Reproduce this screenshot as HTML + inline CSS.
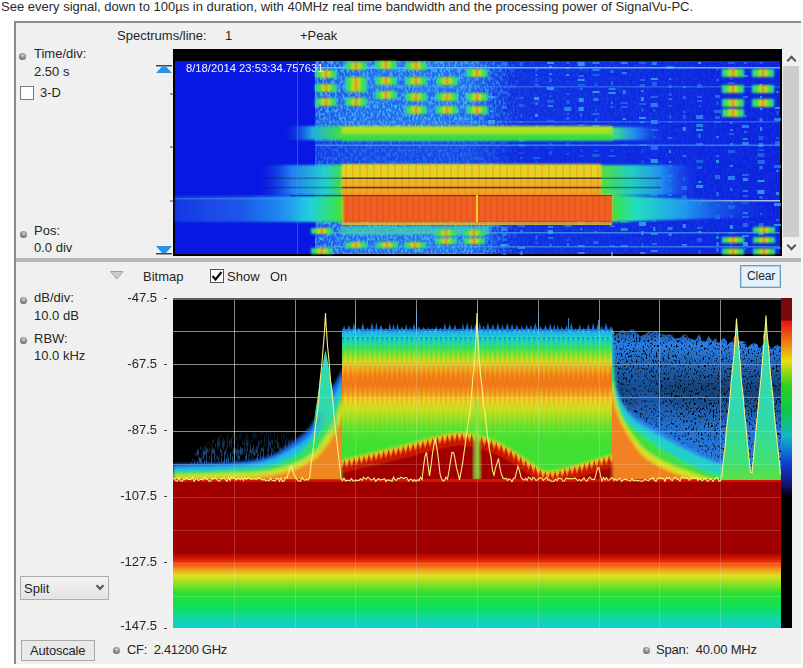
<!DOCTYPE html>
<html><head><meta charset="utf-8">
<style>
*{margin:0;padding:0;box-sizing:border-box}
html,body{width:803px;height:668px;overflow:hidden;background:#fff}
body{position:relative;font-family:"Liberation Sans",sans-serif;font-size:13px;color:#333}
.a{position:absolute;white-space:pre;line-height:15px}
#hdr{left:1px;top:-1px;color:#2a2a2a}
#panel{position:absolute;left:14px;top:21px;width:787px;height:643px;background:#f0f0f0;border-left:2px solid #8c8c8c;border-top:2px solid #8c8c8c}
.lbl{color:#262626}
.radio{position:absolute;width:7px;height:7px;border-radius:50%;background:radial-gradient(circle at 55% 35%,#d8d8d8 0,#9a9a9a 35%,#4a4a4a 100%)}
#sep{position:absolute;left:16px;top:258px;width:785px;height:4px;background:#b8b8b8}
#scroll{position:absolute;left:783px;top:66px;width:16px;height:171px;background:#cdcdcd}
#cbar{position:absolute;left:781px;top:298px;width:11px;height:330px;background:linear-gradient(to bottom,#7a0a0a 0,#7a0a0a 22px,#e81010 23px,#f07010 42px,#e8e010 63px,#30d020 87px,#10c840 111px,#10b8c8 138px,#1040d0 165px,#101070 188px,#000 198px,#000 100%)}
.btn{position:absolute;border:1px solid #adadad;background:#e1e1e1}
.chev{position:absolute;width:7px;height:7px;border-left:2px solid #555;border-top:2px solid #555}
</style></head>
<body>
<div class="a" id="hdr">See every signal, down to 100µs in duration, with 40MHz real time bandwidth and the processing power of SignalVu-PC.</div>
<div id="panel"></div>
<div style="position:absolute;left:801px;top:21px;width:2px;height:647px;background:#fafafa"></div>
<!-- top section labels -->
<div class="a lbl" style="left:117px;top:28px">Spectrums/line:</div>
<div class="a lbl" style="left:225px;top:28px">1</div>
<div class="a lbl" style="left:300px;top:28px">+Peak</div>
<div class="radio" style="left:19px;top:53px"></div>
<div class="a lbl" style="left:34px;top:46px">Time/div:</div>
<div class="a lbl" style="left:34px;top:64px">2.50 s</div>
<div style="position:absolute;left:20px;top:86px;width:14px;height:14px;background:#fff;border:1px solid #7a7a7a"></div>
<div class="a lbl" style="left:40px;top:85px">3-D</div>
<div class="radio" style="left:20px;top:231px"></div>
<div class="a lbl" style="left:34px;top:223px">Pos:</div>
<div class="a lbl" style="left:34px;top:240px">0.0 div</div>
<!-- markers -->
<svg style="position:absolute;left:150px;top:60px" width="26" height="200" viewBox="0 0 26 200">
 <rect x="6" y="5" width="16" height="1.5" fill="#3a4a50"/>
 <path d="M12 6.5 L16 6.5 L22 13 L6 13Z" fill="#2a90e8"/>
 <path d="M6 186 L22 186 L16 193 L12 193Z" fill="#2a90e8"/>
 <rect x="6" y="193" width="16" height="1.5" fill="#3a4a50"/>
 <rect x="20" y="86.5" width="3" height="1" fill="#444"/>
 <rect x="20" y="140.5" width="3" height="1" fill="#444"/>
 <rect x="20" y="33.5" width="3" height="1" fill="#444"/>
</svg>
<svg width="609" height="207" viewBox="0 0 609 207" style="position:absolute;left:173px;top:49px">
<defs>
<linearGradient id="wtex" x1="142" x2="607" y1="0" y2="0" gradientUnits="userSpaceOnUse">
 <stop offset="0" stop-color="#2050ea"/><stop offset="0.1" stop-color="#2468ee"/><stop offset="0.33" stop-color="#2468ee"/><stop offset="0.42" stop-color="#1030e2"/><stop offset="1" stop-color="#0c22e0"/></linearGradient>
<linearGradient id="wmask" x1="142" x2="607" y1="0" y2="0" gradientUnits="userSpaceOnUse">
 <stop offset="0" stop-color="#fff" stop-opacity="0.8"/><stop offset="0.33" stop-color="#fff" stop-opacity="0.8"/><stop offset="0.45" stop-color="#fff" stop-opacity="0.12"/><stop offset="1" stop-color="#fff" stop-opacity="0.08"/></linearGradient>
<linearGradient id="wcL" x1="0" x2="1" y1="0" y2="0">
 <stop offset="0" stop-color="#1838e4"/><stop offset="0.4" stop-color="#1c58ea"/><stop offset="0.65" stop-color="#2090f0"/><stop offset="0.8" stop-color="#20d0e0"/><stop offset="0.93" stop-color="#30e070"/><stop offset="1" stop-color="#50e030"/></linearGradient>
<linearGradient id="wcR" x1="0" x2="1" y1="0" y2="0">
 <stop offset="0" stop-color="#40e040"/><stop offset="0.15" stop-color="#20e0c0"/><stop offset="0.45" stop-color="#2098f0"/><stop offset="1" stop-color="#1a30e0" stop-opacity="0"/></linearGradient>
<linearGradient id="wbL" x1="0" x2="1" y1="0" y2="0">
 <stop offset="0" stop-color="#1a30e0" stop-opacity="0"/><stop offset="0.4" stop-color="#2080f0"/><stop offset="0.8" stop-color="#20d0d0"/><stop offset="1" stop-color="#40e040"/></linearGradient>
<linearGradient id="wbR" x1="0" x2="1" y1="0" y2="0">
 <stop offset="0" stop-color="#50e040"/><stop offset="0.3" stop-color="#20d0c0"/><stop offset="0.6" stop-color="#2090f0"/><stop offset="1" stop-color="#1a30e0" stop-opacity="0"/></linearGradient>
<linearGradient id="wbV" x1="0" x2="0" y1="0" y2="1">
 <stop offset="0" stop-color="#e0d820"/><stop offset="0.45" stop-color="#e8d020"/><stop offset="0.5" stop-color="#f0b420"/><stop offset="1" stop-color="#f0a020"/></linearGradient>
<linearGradient id="waL" x1="0" x2="1" y1="0" y2="0">
 <stop offset="0" stop-color="#1a30e0" stop-opacity="0"/><stop offset="0.5" stop-color="#20b0e0"/><stop offset="1" stop-color="#40e040"/></linearGradient>
<linearGradient id="waR" x1="0" x2="1" y1="0" y2="0">
 <stop offset="0" stop-color="#40e080"/><stop offset="0.4" stop-color="#2090f0"/><stop offset="1" stop-color="#1a30e0" stop-opacity="0"/></linearGradient>
<linearGradient id="waV" x1="0" x2="0" y1="0" y2="1">
 <stop offset="0" stop-color="#b8e020"/><stop offset="0.5" stop-color="#a0e020"/><stop offset="0.55" stop-color="#40e040"/><stop offset="1" stop-color="#30d850"/></linearGradient>
<linearGradient id="blobH" x1="0" x2="1" y1="0" y2="0">
 <stop offset="0" stop-color="#30d0c0"/><stop offset="0.2" stop-color="#40e040"/><stop offset="0.4" stop-color="#c0e020"/><stop offset="0.5" stop-color="#f0c020"/><stop offset="0.6" stop-color="#c0e020"/><stop offset="0.8" stop-color="#40e040"/><stop offset="1" stop-color="#30d0c0"/></linearGradient>
<filter id="wblur" x="-5%" y="-20%" width="110%" height="140%"><feGaussianBlur stdDeviation="1"/></filter>
<filter id="wspk" x="0" y="0" width="100%" height="100%" filterUnits="userSpaceOnUse" color-interpolation-filters="sRGB">
 <feTurbulence type="fractalNoise" baseFrequency="0.5 0.25" numOctaves="2" seed="9" result="n"/>
 <feColorMatrix in="n" type="matrix" values="0 0 0 0 0.25  0 0 0 0 0.75  0 0 0 0 0.95  0 0 0 5 -2.2" result="c"/>
 <feComposite in="c" in2="SourceGraphic" operator="in"/>
</filter>
</defs>
<rect width="609" height="207" fill="#000"/>
<rect x="2" y="12" width="605" height="193" fill="#0818e2"/>
<rect x="142" y="12" width="465" height="193" fill="url(#wtex)"/>
<rect x="142" y="12" width="465" height="193" fill="url(#wmask)" filter="url(#wspk)"/>
<rect x="317.0" y="22.0" width="3" height="2" fill="#2a70f0" opacity="0.7"/><rect x="317.0" y="29.0" width="3" height="2" fill="#2a70f0" opacity="0.7"/><rect x="315.0" y="47.0" width="7" height="2" fill="#40c0f0" opacity="0.7"/><rect x="317.0" y="61.0" width="3" height="2" fill="#40c0f0" opacity="0.7"/><rect x="315.0" y="71.0" width="7" height="4" fill="#40c0f0" opacity="0.7"/><rect x="316.0" y="80.0" width="5" height="2" fill="#3aa0f0" opacity="0.7"/><rect x="316.0" y="87.0" width="5" height="3" fill="#2a70f0" opacity="0.7"/><rect x="317.0" y="92.0" width="3" height="3" fill="#3aa0f0" opacity="0.7"/><rect x="315.0" y="103.0" width="7" height="3" fill="#3080f0" opacity="0.7"/><rect x="317.0" y="114.0" width="3" height="4" fill="#40c0f0" opacity="0.7"/><rect x="316.0" y="125.0" width="5" height="4" fill="#2a70f0" opacity="0.7"/><rect x="316.0" y="151.0" width="5" height="2" fill="#40c0f0" opacity="0.7"/><rect x="316.0" y="164.0" width="5" height="2" fill="#40c0f0" opacity="0.7"/><rect x="316.0" y="171.0" width="5" height="2" fill="#2a70f0" opacity="0.7"/><rect x="315.0" y="176.0" width="7" height="2" fill="#3aa0f0" opacity="0.7"/><rect x="317.5" y="187.0" width="2" height="4" fill="#2a70f0" opacity="0.7"/><rect x="317.0" y="199.0" width="3" height="3" fill="#2a70f0" opacity="0.7"/><rect x="327.9" y="13.0" width="7" height="4" fill="#3080f0" opacity="0.7"/><rect x="327.9" y="42.0" width="7" height="3" fill="#2a70f0" opacity="0.7"/><rect x="329.9" y="53.0" width="3" height="2" fill="#2a70f0" opacity="0.7"/><rect x="328.9" y="57.0" width="5" height="3" fill="#3080f0" opacity="0.7"/><rect x="330.4" y="63.0" width="2" height="2" fill="#3080f0" opacity="0.7"/><rect x="330.4" y="86.0" width="2" height="3" fill="#2a70f0" opacity="0.7"/><rect x="327.9" y="92.0" width="7" height="3" fill="#3080f0" opacity="0.7"/><rect x="328.9" y="100.0" width="5" height="3" fill="#2a70f0" opacity="0.7"/><rect x="328.9" y="123.0" width="5" height="2" fill="#2a70f0" opacity="0.7"/><rect x="327.9" y="128.0" width="7" height="3" fill="#40c0f0" opacity="0.7"/><rect x="328.9" y="133.0" width="5" height="4" fill="#3aa0f0" opacity="0.7"/><rect x="329.9" y="142.0" width="3" height="2" fill="#40c0f0" opacity="0.7"/><rect x="329.9" y="151.0" width="3" height="2" fill="#3aa0f0" opacity="0.7"/><rect x="330.4" y="156.0" width="2" height="3" fill="#2a70f0" opacity="0.7"/><rect x="330.4" y="162.0" width="2" height="4" fill="#40c0f0" opacity="0.7"/><rect x="327.9" y="171.0" width="7" height="2" fill="#3080f0" opacity="0.7"/><rect x="328.9" y="178.0" width="5" height="4" fill="#3aa0f0" opacity="0.7"/><rect x="328.9" y="184.0" width="5" height="3" fill="#3080f0" opacity="0.7"/><rect x="328.9" y="189.0" width="5" height="3" fill="#2a70f0" opacity="0.7"/><rect x="327.9" y="195.0" width="7" height="2" fill="#40c0f0" opacity="0.7"/><rect x="330.4" y="200.0" width="2" height="2" fill="#2a70f0" opacity="0.7"/><rect x="329.9" y="204.0" width="3" height="2" fill="#3080f0" opacity="0.7"/><rect x="347.0" y="13.0" width="3" height="4" fill="#2a70f0" opacity="0.7"/><rect x="346.0" y="48.0" width="5" height="2" fill="#2a70f0" opacity="0.7"/><rect x="346.0" y="55.0" width="5" height="3" fill="#2a70f0" opacity="0.7"/><rect x="347.5" y="66.0" width="2" height="3" fill="#2a70f0" opacity="0.7"/><rect x="347.0" y="72.0" width="3" height="2" fill="#2a70f0" opacity="0.7"/><rect x="346.0" y="79.0" width="5" height="2" fill="#40c0f0" opacity="0.7"/><rect x="346.0" y="89.0" width="5" height="4" fill="#40c0f0" opacity="0.7"/><rect x="345.0" y="95.0" width="7" height="3" fill="#3aa0f0" opacity="0.7"/><rect x="346.0" y="103.0" width="5" height="2" fill="#3080f0" opacity="0.7"/><rect x="347.0" y="108.0" width="3" height="2" fill="#3aa0f0" opacity="0.7"/><rect x="347.5" y="118.0" width="2" height="2" fill="#40c0f0" opacity="0.7"/><rect x="347.0" y="147.0" width="3" height="4" fill="#3080f0" opacity="0.7"/><rect x="347.5" y="159.0" width="2" height="4" fill="#2a70f0" opacity="0.7"/><rect x="345.0" y="176.0" width="7" height="2" fill="#3080f0" opacity="0.7"/><rect x="347.5" y="181.0" width="2" height="2" fill="#3aa0f0" opacity="0.7"/><rect x="345.0" y="198.0" width="7" height="2" fill="#3aa0f0" opacity="0.7"/><rect x="347.5" y="202.0" width="2" height="4" fill="#40c0f0" opacity="0.7"/><rect x="362.0" y="18.0" width="3" height="4" fill="#2a70f0" opacity="0.7"/><rect x="362.5" y="25.0" width="2" height="2" fill="#3aa0f0" opacity="0.7"/><rect x="362.5" y="29.0" width="2" height="4" fill="#2a70f0" opacity="0.7"/><rect x="361.0" y="35.0" width="5" height="2" fill="#2a70f0" opacity="0.7"/><rect x="361.0" y="48.0" width="5" height="3" fill="#40c0f0" opacity="0.7"/><rect x="362.0" y="53.0" width="3" height="3" fill="#3080f0" opacity="0.7"/><rect x="362.0" y="65.0" width="3" height="3" fill="#40c0f0" opacity="0.7"/><rect x="362.5" y="76.0" width="2" height="2" fill="#3aa0f0" opacity="0.7"/><rect x="360.0" y="83.0" width="7" height="2" fill="#2a70f0" opacity="0.7"/><rect x="362.0" y="98.0" width="3" height="2" fill="#2a70f0" opacity="0.7"/><rect x="360.0" y="108.0" width="7" height="2" fill="#40c0f0" opacity="0.7"/><rect x="362.0" y="112.0" width="3" height="2" fill="#3080f0" opacity="0.7"/><rect x="361.0" y="130.0" width="5" height="4" fill="#3080f0" opacity="0.7"/><rect x="362.0" y="137.0" width="3" height="4" fill="#40c0f0" opacity="0.7"/><rect x="362.5" y="146.0" width="2" height="4" fill="#40c0f0" opacity="0.7"/><rect x="360.0" y="152.0" width="7" height="2" fill="#3080f0" opacity="0.7"/><rect x="360.0" y="157.0" width="7" height="2" fill="#3080f0" opacity="0.7"/><rect x="362.0" y="167.0" width="3" height="4" fill="#40c0f0" opacity="0.7"/><rect x="362.5" y="186.0" width="2" height="4" fill="#3080f0" opacity="0.7"/><rect x="362.5" y="193.0" width="2" height="2" fill="#2a70f0" opacity="0.7"/><rect x="374.0" y="13.0" width="7" height="2" fill="#40c0f0" opacity="0.7"/><rect x="376.0" y="17.0" width="3" height="2" fill="#40c0f0" opacity="0.7"/><rect x="376.0" y="24.0" width="3" height="2" fill="#3aa0f0" opacity="0.7"/><rect x="376.0" y="29.0" width="3" height="4" fill="#2a70f0" opacity="0.7"/><rect x="374.0" y="38.0" width="7" height="3" fill="#40c0f0" opacity="0.7"/><rect x="376.5" y="46.0" width="2" height="2" fill="#2a70f0" opacity="0.7"/><rect x="374.0" y="51.0" width="7" height="3" fill="#2a70f0" opacity="0.7"/><rect x="375.0" y="56.0" width="5" height="2" fill="#3aa0f0" opacity="0.7"/><rect x="374.0" y="71.0" width="7" height="2" fill="#2a70f0" opacity="0.7"/><rect x="374.0" y="76.0" width="7" height="2" fill="#2a70f0" opacity="0.7"/><rect x="374.0" y="85.0" width="7" height="2" fill="#40c0f0" opacity="0.7"/><rect x="376.0" y="94.0" width="3" height="2" fill="#3aa0f0" opacity="0.7"/><rect x="375.0" y="98.0" width="5" height="2" fill="#2a70f0" opacity="0.7"/><rect x="376.0" y="102.0" width="3" height="4" fill="#3aa0f0" opacity="0.7"/><rect x="374.0" y="125.0" width="7" height="2" fill="#3aa0f0" opacity="0.7"/><rect x="376.0" y="129.0" width="3" height="3" fill="#3aa0f0" opacity="0.7"/><rect x="374.0" y="140.0" width="7" height="4" fill="#40c0f0" opacity="0.7"/><rect x="376.0" y="147.0" width="3" height="3" fill="#3aa0f0" opacity="0.7"/><rect x="375.0" y="159.0" width="5" height="2" fill="#2a70f0" opacity="0.7"/><rect x="376.0" y="163.0" width="3" height="2" fill="#3aa0f0" opacity="0.7"/><rect x="375.0" y="177.0" width="5" height="2" fill="#3aa0f0" opacity="0.7"/><rect x="375.0" y="181.0" width="5" height="4" fill="#40c0f0" opacity="0.7"/><rect x="375.0" y="188.0" width="5" height="2" fill="#3080f0" opacity="0.7"/><rect x="376.5" y="195.0" width="2" height="2" fill="#3aa0f0" opacity="0.7"/><rect x="393.3" y="13.0" width="3" height="2" fill="#3080f0" opacity="0.7"/><rect x="393.3" y="18.0" width="3" height="2" fill="#40c0f0" opacity="0.7"/><rect x="393.3" y="25.0" width="3" height="2" fill="#40c0f0" opacity="0.7"/><rect x="393.3" y="44.0" width="3" height="2" fill="#2a70f0" opacity="0.7"/><rect x="393.3" y="51.0" width="3" height="4" fill="#2a70f0" opacity="0.7"/><rect x="391.3" y="58.0" width="7" height="4" fill="#3aa0f0" opacity="0.7"/><rect x="393.3" y="64.0" width="3" height="2" fill="#2a70f0" opacity="0.7"/><rect x="393.3" y="68.0" width="3" height="3" fill="#3080f0" opacity="0.7"/><rect x="392.3" y="79.0" width="5" height="2" fill="#40c0f0" opacity="0.7"/><rect x="393.3" y="94.0" width="3" height="2" fill="#40c0f0" opacity="0.7"/><rect x="393.8" y="104.0" width="2" height="2" fill="#40c0f0" opacity="0.7"/><rect x="393.8" y="126.0" width="2" height="3" fill="#40c0f0" opacity="0.7"/><rect x="393.3" y="137.0" width="3" height="4" fill="#2a70f0" opacity="0.7"/><rect x="392.3" y="143.0" width="5" height="2" fill="#2a70f0" opacity="0.7"/><rect x="393.8" y="150.0" width="2" height="4" fill="#40c0f0" opacity="0.7"/><rect x="393.8" y="171.0" width="2" height="2" fill="#3aa0f0" opacity="0.7"/><rect x="391.3" y="176.0" width="7" height="2" fill="#3080f0" opacity="0.7"/><rect x="393.8" y="190.0" width="2" height="2" fill="#3080f0" opacity="0.7"/><rect x="393.8" y="194.0" width="2" height="3" fill="#3aa0f0" opacity="0.7"/><rect x="404.7" y="13.0" width="7" height="4" fill="#40c0f0" opacity="0.7"/><rect x="407.2" y="19.0" width="2" height="2" fill="#3080f0" opacity="0.7"/><rect x="405.7" y="26.0" width="5" height="2" fill="#3080f0" opacity="0.7"/><rect x="404.7" y="30.0" width="7" height="2" fill="#40c0f0" opacity="0.7"/><rect x="404.7" y="35.0" width="7" height="2" fill="#2a70f0" opacity="0.7"/><rect x="406.7" y="39.0" width="3" height="2" fill="#3080f0" opacity="0.7"/><rect x="405.7" y="49.0" width="5" height="4" fill="#40c0f0" opacity="0.7"/><rect x="405.7" y="58.0" width="5" height="4" fill="#40c0f0" opacity="0.7"/><rect x="407.2" y="64.0" width="2" height="4" fill="#3080f0" opacity="0.7"/><rect x="404.7" y="75.0" width="7" height="2" fill="#2a70f0" opacity="0.7"/><rect x="407.2" y="89.0" width="2" height="2" fill="#3aa0f0" opacity="0.7"/><rect x="407.2" y="94.0" width="2" height="3" fill="#2a70f0" opacity="0.7"/><rect x="407.2" y="100.0" width="2" height="3" fill="#3080f0" opacity="0.7"/><rect x="405.7" y="106.0" width="5" height="2" fill="#3080f0" opacity="0.7"/><rect x="404.7" y="120.0" width="7" height="2" fill="#2a70f0" opacity="0.7"/><rect x="404.7" y="129.0" width="7" height="3" fill="#2a70f0" opacity="0.7"/><rect x="405.7" y="135.0" width="5" height="3" fill="#3aa0f0" opacity="0.7"/><rect x="405.7" y="150.0" width="5" height="2" fill="#2a70f0" opacity="0.7"/><rect x="405.7" y="157.0" width="5" height="2" fill="#3aa0f0" opacity="0.7"/><rect x="406.7" y="161.0" width="3" height="4" fill="#3080f0" opacity="0.7"/><rect x="407.2" y="167.0" width="2" height="2" fill="#2a70f0" opacity="0.7"/><rect x="404.7" y="172.0" width="7" height="4" fill="#40c0f0" opacity="0.7"/><rect x="407.2" y="179.0" width="2" height="2" fill="#3aa0f0" opacity="0.7"/><rect x="404.7" y="196.0" width="7" height="2" fill="#3aa0f0" opacity="0.7"/><rect x="404.7" y="203.0" width="7" height="2" fill="#3aa0f0" opacity="0.7"/><rect x="419.4" y="13.0" width="7" height="2" fill="#3aa0f0" opacity="0.7"/><rect x="419.4" y="20.0" width="7" height="2" fill="#3aa0f0" opacity="0.7"/><rect x="419.4" y="25.0" width="7" height="2" fill="#2a70f0" opacity="0.7"/><rect x="421.4" y="35.0" width="3" height="2" fill="#2a70f0" opacity="0.7"/><rect x="419.4" y="42.0" width="7" height="2" fill="#40c0f0" opacity="0.7"/><rect x="420.4" y="49.0" width="5" height="3" fill="#3aa0f0" opacity="0.7"/><rect x="421.9" y="60.0" width="2" height="2" fill="#2a70f0" opacity="0.7"/><rect x="419.4" y="64.0" width="7" height="2" fill="#3080f0" opacity="0.7"/><rect x="421.9" y="69.0" width="2" height="4" fill="#3080f0" opacity="0.7"/><rect x="419.4" y="76.0" width="7" height="2" fill="#3aa0f0" opacity="0.7"/><rect x="421.9" y="94.0" width="2" height="2" fill="#3080f0" opacity="0.7"/><rect x="420.4" y="101.0" width="5" height="2" fill="#3080f0" opacity="0.7"/><rect x="419.4" y="105.0" width="7" height="3" fill="#40c0f0" opacity="0.7"/><rect x="421.9" y="116.0" width="2" height="2" fill="#2a70f0" opacity="0.7"/><rect x="421.9" y="123.0" width="2" height="2" fill="#3aa0f0" opacity="0.7"/><rect x="421.4" y="128.0" width="3" height="2" fill="#3080f0" opacity="0.7"/><rect x="419.4" y="133.0" width="7" height="2" fill="#3080f0" opacity="0.7"/><rect x="421.9" y="138.0" width="2" height="2" fill="#3aa0f0" opacity="0.7"/><rect x="419.4" y="145.0" width="7" height="3" fill="#2a70f0" opacity="0.7"/><rect x="421.9" y="153.0" width="2" height="3" fill="#2a70f0" opacity="0.7"/><rect x="419.4" y="159.0" width="7" height="2" fill="#3aa0f0" opacity="0.7"/><rect x="419.4" y="172.0" width="7" height="2" fill="#3aa0f0" opacity="0.7"/><rect x="421.9" y="182.0" width="2" height="2" fill="#3aa0f0" opacity="0.7"/><rect x="420.4" y="192.0" width="5" height="3" fill="#3080f0" opacity="0.7"/><rect x="437.5" y="21.0" width="3" height="3" fill="#3080f0" opacity="0.7"/><rect x="438.0" y="32.0" width="2" height="4" fill="#3080f0" opacity="0.7"/><rect x="435.5" y="39.0" width="7" height="2" fill="#3aa0f0" opacity="0.7"/><rect x="435.5" y="43.0" width="7" height="2" fill="#40c0f0" opacity="0.7"/><rect x="438.0" y="53.0" width="2" height="2" fill="#3aa0f0" opacity="0.7"/><rect x="438.0" y="57.0" width="2" height="2" fill="#3080f0" opacity="0.7"/><rect x="438.0" y="77.0" width="2" height="3" fill="#3080f0" opacity="0.7"/><rect x="437.5" y="88.0" width="3" height="4" fill="#3080f0" opacity="0.7"/><rect x="437.5" y="100.0" width="3" height="3" fill="#3080f0" opacity="0.7"/><rect x="435.5" y="106.0" width="7" height="2" fill="#40c0f0" opacity="0.7"/><rect x="436.5" y="131.0" width="5" height="3" fill="#2a70f0" opacity="0.7"/><rect x="435.5" y="136.0" width="7" height="2" fill="#3080f0" opacity="0.7"/><rect x="437.5" y="141.0" width="3" height="3" fill="#3080f0" opacity="0.7"/><rect x="438.0" y="158.0" width="2" height="3" fill="#3aa0f0" opacity="0.7"/><rect x="436.5" y="169.0" width="5" height="2" fill="#40c0f0" opacity="0.7"/><rect x="436.5" y="176.0" width="5" height="2" fill="#3080f0" opacity="0.7"/><rect x="436.5" y="196.0" width="5" height="2" fill="#2a70f0" opacity="0.7"/><rect x="438.0" y="203.0" width="2" height="4" fill="#40c0f0" opacity="0.7"/><rect x="447.7" y="13.0" width="7" height="2" fill="#3aa0f0" opacity="0.7"/><rect x="448.7" y="23.0" width="5" height="2" fill="#3aa0f0" opacity="0.7"/><rect x="449.7" y="41.0" width="3" height="4" fill="#3aa0f0" opacity="0.7"/><rect x="447.7" y="53.0" width="7" height="2" fill="#2a70f0" opacity="0.7"/><rect x="447.7" y="57.0" width="7" height="2" fill="#2a70f0" opacity="0.7"/><rect x="449.7" y="69.0" width="3" height="2" fill="#40c0f0" opacity="0.7"/><rect x="450.2" y="79.0" width="2" height="3" fill="#2a70f0" opacity="0.7"/><rect x="448.7" y="84.0" width="5" height="3" fill="#3080f0" opacity="0.7"/><rect x="447.7" y="95.0" width="7" height="2" fill="#3aa0f0" opacity="0.7"/><rect x="450.2" y="102.0" width="2" height="2" fill="#2a70f0" opacity="0.7"/><rect x="450.2" y="107.0" width="2" height="2" fill="#2a70f0" opacity="0.7"/><rect x="448.7" y="123.0" width="5" height="2" fill="#3080f0" opacity="0.7"/><rect x="450.2" y="133.0" width="2" height="2" fill="#3080f0" opacity="0.7"/><rect x="448.7" y="149.0" width="5" height="3" fill="#40c0f0" opacity="0.7"/><rect x="449.7" y="157.0" width="3" height="4" fill="#3080f0" opacity="0.7"/><rect x="449.7" y="166.0" width="3" height="2" fill="#3080f0" opacity="0.7"/><rect x="447.7" y="170.0" width="7" height="4" fill="#3080f0" opacity="0.7"/><rect x="447.7" y="179.0" width="7" height="3" fill="#3aa0f0" opacity="0.7"/><rect x="447.7" y="196.0" width="7" height="2" fill="#3aa0f0" opacity="0.7"/><rect x="465.9" y="13.0" width="7" height="2" fill="#2a70f0" opacity="0.7"/><rect x="466.9" y="30.0" width="5" height="2" fill="#2a70f0" opacity="0.7"/><rect x="466.9" y="35.0" width="5" height="3" fill="#2a70f0" opacity="0.7"/><rect x="468.4" y="41.0" width="2" height="2" fill="#40c0f0" opacity="0.7"/><rect x="467.9" y="48.0" width="3" height="4" fill="#40c0f0" opacity="0.7"/><rect x="465.9" y="54.0" width="7" height="2" fill="#2a70f0" opacity="0.7"/><rect x="468.4" y="59.0" width="2" height="4" fill="#2a70f0" opacity="0.7"/><rect x="465.9" y="68.0" width="7" height="2" fill="#40c0f0" opacity="0.7"/><rect x="466.9" y="72.0" width="5" height="2" fill="#3aa0f0" opacity="0.7"/><rect x="468.4" y="79.0" width="2" height="2" fill="#2a70f0" opacity="0.7"/><rect x="465.9" y="84.0" width="7" height="2" fill="#2a70f0" opacity="0.7"/><rect x="465.9" y="95.0" width="7" height="2" fill="#40c0f0" opacity="0.7"/><rect x="467.9" y="100.0" width="3" height="4" fill="#3080f0" opacity="0.7"/><rect x="467.9" y="111.0" width="3" height="4" fill="#3080f0" opacity="0.7"/><rect x="467.9" y="123.0" width="3" height="3" fill="#3080f0" opacity="0.7"/><rect x="467.9" y="128.0" width="3" height="2" fill="#3080f0" opacity="0.7"/><rect x="465.9" y="138.0" width="7" height="2" fill="#3aa0f0" opacity="0.7"/><rect x="466.9" y="152.0" width="5" height="3" fill="#3aa0f0" opacity="0.7"/><rect x="465.9" y="173.0" width="7" height="4" fill="#40c0f0" opacity="0.7"/><rect x="468.4" y="182.0" width="2" height="4" fill="#40c0f0" opacity="0.7"/><rect x="468.4" y="194.0" width="2" height="4" fill="#2a70f0" opacity="0.7"/><rect x="466.9" y="203.0" width="5" height="2" fill="#3aa0f0" opacity="0.7"/><rect x="478.8" y="13.0" width="5" height="3" fill="#3aa0f0" opacity="0.7"/><rect x="477.8" y="29.0" width="7" height="2" fill="#40c0f0" opacity="0.7"/><rect x="478.8" y="33.0" width="5" height="4" fill="#2a70f0" opacity="0.7"/><rect x="477.8" y="47.0" width="7" height="2" fill="#3080f0" opacity="0.7"/><rect x="477.8" y="54.0" width="7" height="4" fill="#3aa0f0" opacity="0.7"/><rect x="480.3" y="60.0" width="2" height="3" fill="#2a70f0" opacity="0.7"/><rect x="477.8" y="71.0" width="7" height="4" fill="#3aa0f0" opacity="0.7"/><rect x="477.8" y="80.0" width="7" height="2" fill="#3080f0" opacity="0.7"/><rect x="479.8" y="87.0" width="3" height="2" fill="#2a70f0" opacity="0.7"/><rect x="477.8" y="97.0" width="7" height="4" fill="#3080f0" opacity="0.7"/><rect x="477.8" y="110.0" width="7" height="4" fill="#40c0f0" opacity="0.7"/><rect x="480.3" y="116.0" width="2" height="3" fill="#3aa0f0" opacity="0.7"/><rect x="478.8" y="121.0" width="5" height="2" fill="#2a70f0" opacity="0.7"/><rect x="478.8" y="128.0" width="5" height="2" fill="#40c0f0" opacity="0.7"/><rect x="477.8" y="143.0" width="7" height="4" fill="#3080f0" opacity="0.7"/><rect x="478.8" y="149.0" width="5" height="2" fill="#3080f0" opacity="0.7"/><rect x="477.8" y="153.0" width="7" height="3" fill="#3080f0" opacity="0.7"/><rect x="477.8" y="158.0" width="7" height="2" fill="#3080f0" opacity="0.7"/><rect x="477.8" y="163.0" width="7" height="3" fill="#3aa0f0" opacity="0.7"/><rect x="479.8" y="169.0" width="3" height="4" fill="#2a70f0" opacity="0.7"/><rect x="480.3" y="178.0" width="2" height="4" fill="#40c0f0" opacity="0.7"/><rect x="477.8" y="184.0" width="7" height="2" fill="#3aa0f0" opacity="0.7"/><rect x="478.8" y="194.0" width="5" height="2" fill="#3080f0" opacity="0.7"/><rect x="477.8" y="201.0" width="7" height="2" fill="#3aa0f0" opacity="0.7"/><rect x="493.6" y="17.0" width="7" height="3" fill="#3aa0f0" opacity="0.7"/><rect x="496.1" y="29.0" width="2" height="2" fill="#3aa0f0" opacity="0.7"/><rect x="495.6" y="36.0" width="3" height="3" fill="#3080f0" opacity="0.7"/><rect x="495.6" y="44.0" width="3" height="3" fill="#2a70f0" opacity="0.7"/><rect x="495.6" y="49.0" width="3" height="2" fill="#3aa0f0" opacity="0.7"/><rect x="496.1" y="56.0" width="2" height="2" fill="#3080f0" opacity="0.7"/><rect x="496.1" y="66.0" width="2" height="4" fill="#2a70f0" opacity="0.7"/><rect x="495.6" y="72.0" width="3" height="2" fill="#3080f0" opacity="0.7"/><rect x="494.6" y="88.0" width="5" height="2" fill="#3080f0" opacity="0.7"/><rect x="496.1" y="101.0" width="2" height="3" fill="#40c0f0" opacity="0.7"/><rect x="496.1" y="112.0" width="2" height="2" fill="#40c0f0" opacity="0.7"/><rect x="495.6" y="116.0" width="3" height="2" fill="#3080f0" opacity="0.7"/><rect x="493.6" y="126.0" width="7" height="2" fill="#40c0f0" opacity="0.7"/><rect x="496.1" y="130.0" width="2" height="4" fill="#40c0f0" opacity="0.7"/><rect x="494.6" y="139.0" width="5" height="4" fill="#2a70f0" opacity="0.7"/><rect x="495.6" y="145.0" width="3" height="2" fill="#40c0f0" opacity="0.7"/><rect x="493.6" y="152.0" width="7" height="3" fill="#3080f0" opacity="0.7"/><rect x="495.6" y="163.0" width="3" height="2" fill="#3aa0f0" opacity="0.7"/><rect x="496.1" y="168.0" width="2" height="2" fill="#40c0f0" opacity="0.7"/><rect x="494.6" y="178.0" width="5" height="3" fill="#3aa0f0" opacity="0.7"/><rect x="495.6" y="184.0" width="3" height="3" fill="#3aa0f0" opacity="0.7"/><rect x="510.3" y="37.0" width="2" height="2" fill="#40c0f0" opacity="0.7"/><rect x="509.8" y="47.0" width="3" height="3" fill="#3080f0" opacity="0.7"/><rect x="509.8" y="62.0" width="3" height="2" fill="#2a70f0" opacity="0.7"/><rect x="509.8" y="66.0" width="3" height="4" fill="#2a70f0" opacity="0.7"/><rect x="509.8" y="78.0" width="3" height="4" fill="#40c0f0" opacity="0.7"/><rect x="509.8" y="106.0" width="3" height="2" fill="#3aa0f0" opacity="0.7"/><rect x="509.8" y="128.0" width="3" height="4" fill="#2a70f0" opacity="0.7"/><rect x="508.8" y="137.0" width="5" height="4" fill="#3aa0f0" opacity="0.7"/><rect x="508.8" y="146.0" width="5" height="4" fill="#3080f0" opacity="0.7"/><rect x="507.8" y="158.0" width="7" height="2" fill="#2a70f0" opacity="0.7"/><rect x="509.8" y="168.0" width="3" height="2" fill="#3080f0" opacity="0.7"/><rect x="509.8" y="175.0" width="3" height="4" fill="#40c0f0" opacity="0.7"/><rect x="508.8" y="195.0" width="5" height="2" fill="#3aa0f0" opacity="0.7"/><rect x="525.1" y="13.0" width="3" height="2" fill="#40c0f0" opacity="0.7"/><rect x="524.1" y="35.0" width="5" height="4" fill="#2a70f0" opacity="0.7"/><rect x="524.1" y="47.0" width="5" height="2" fill="#2a70f0" opacity="0.7"/><rect x="524.1" y="51.0" width="5" height="2" fill="#3080f0" opacity="0.7"/><rect x="525.6" y="56.0" width="2" height="2" fill="#2a70f0" opacity="0.7"/><rect x="523.1" y="66.0" width="7" height="4" fill="#3aa0f0" opacity="0.7"/><rect x="523.1" y="75.0" width="7" height="3" fill="#3aa0f0" opacity="0.7"/><rect x="523.1" y="80.0" width="7" height="2" fill="#40c0f0" opacity="0.7"/><rect x="525.6" y="85.0" width="2" height="4" fill="#3aa0f0" opacity="0.7"/><rect x="523.1" y="94.0" width="7" height="2" fill="#3080f0" opacity="0.7"/><rect x="523.1" y="111.0" width="7" height="3" fill="#2a70f0" opacity="0.7"/><rect x="524.1" y="117.0" width="5" height="3" fill="#2a70f0" opacity="0.7"/><rect x="525.1" y="132.0" width="3" height="2" fill="#40c0f0" opacity="0.7"/><rect x="523.1" y="136.0" width="7" height="3" fill="#40c0f0" opacity="0.7"/><rect x="525.1" y="152.0" width="3" height="4" fill="#3080f0" opacity="0.7"/><rect x="524.1" y="178.0" width="5" height="2" fill="#3080f0" opacity="0.7"/><rect x="525.1" y="182.0" width="3" height="2" fill="#40c0f0" opacity="0.7"/><rect x="524.1" y="189.0" width="5" height="4" fill="#2a70f0" opacity="0.7"/><rect x="525.6" y="201.0" width="2" height="4" fill="#3080f0" opacity="0.7"/><rect x="543.5" y="18.0" width="2" height="4" fill="#2a70f0" opacity="0.7"/><rect x="543.5" y="30.0" width="2" height="2" fill="#3aa0f0" opacity="0.7"/><rect x="542.0" y="46.0" width="5" height="3" fill="#3080f0" opacity="0.7"/><rect x="543.5" y="52.0" width="2" height="4" fill="#2a70f0" opacity="0.7"/><rect x="541.0" y="61.0" width="7" height="3" fill="#3080f0" opacity="0.7"/><rect x="542.0" y="67.0" width="5" height="3" fill="#2a70f0" opacity="0.7"/><rect x="541.0" y="72.0" width="7" height="2" fill="#2a70f0" opacity="0.7"/><rect x="543.0" y="87.0" width="3" height="2" fill="#3aa0f0" opacity="0.7"/><rect x="543.0" y="106.0" width="3" height="2" fill="#3080f0" opacity="0.7"/><rect x="543.0" y="111.0" width="3" height="3" fill="#40c0f0" opacity="0.7"/><rect x="542.0" y="126.0" width="5" height="4" fill="#3080f0" opacity="0.7"/><rect x="543.0" y="143.0" width="3" height="4" fill="#3080f0" opacity="0.7"/><rect x="543.5" y="155.0" width="2" height="2" fill="#2a70f0" opacity="0.7"/><rect x="542.0" y="166.0" width="5" height="4" fill="#3080f0" opacity="0.7"/><rect x="543.5" y="183.0" width="2" height="2" fill="#3080f0" opacity="0.7"/><rect x="543.0" y="187.0" width="3" height="3" fill="#3aa0f0" opacity="0.7"/><rect x="543.5" y="193.0" width="2" height="4" fill="#40c0f0" opacity="0.7"/><rect x="543.5" y="199.0" width="2" height="4" fill="#3aa0f0" opacity="0.7"/><rect x="554.9" y="13.0" width="7" height="2" fill="#2a70f0" opacity="0.7"/><rect x="554.9" y="18.0" width="7" height="3" fill="#3080f0" opacity="0.7"/><rect x="554.9" y="23.0" width="7" height="4" fill="#3080f0" opacity="0.7"/><rect x="557.4" y="29.0" width="2" height="2" fill="#2a70f0" opacity="0.7"/><rect x="554.9" y="33.0" width="7" height="2" fill="#2a70f0" opacity="0.7"/><rect x="554.9" y="52.0" width="7" height="3" fill="#3aa0f0" opacity="0.7"/><rect x="554.9" y="60.0" width="7" height="2" fill="#40c0f0" opacity="0.7"/><rect x="554.9" y="64.0" width="7" height="3" fill="#3aa0f0" opacity="0.7"/><rect x="557.4" y="72.0" width="2" height="3" fill="#3aa0f0" opacity="0.7"/><rect x="556.9" y="80.0" width="3" height="2" fill="#3aa0f0" opacity="0.7"/><rect x="555.9" y="84.0" width="5" height="2" fill="#2a70f0" opacity="0.7"/><rect x="556.9" y="94.0" width="3" height="2" fill="#3aa0f0" opacity="0.7"/><rect x="554.9" y="101.0" width="7" height="3" fill="#2a70f0" opacity="0.7"/><rect x="556.9" y="116.0" width="3" height="2" fill="#3aa0f0" opacity="0.7"/><rect x="554.9" y="127.0" width="7" height="4" fill="#3aa0f0" opacity="0.7"/><rect x="557.4" y="139.0" width="2" height="3" fill="#3aa0f0" opacity="0.7"/><rect x="557.4" y="152.0" width="2" height="2" fill="#40c0f0" opacity="0.7"/><rect x="554.9" y="156.0" width="7" height="4" fill="#3080f0" opacity="0.7"/><rect x="556.9" y="166.0" width="3" height="2" fill="#3080f0" opacity="0.7"/><rect x="556.9" y="176.0" width="3" height="4" fill="#40c0f0" opacity="0.7"/><rect x="554.9" y="183.0" width="7" height="2" fill="#2a70f0" opacity="0.7"/><rect x="557.4" y="194.0" width="2" height="4" fill="#2a70f0" opacity="0.7"/><rect x="555.9" y="201.0" width="5" height="2" fill="#40c0f0" opacity="0.7"/><rect x="570.9" y="13.0" width="3" height="2" fill="#3080f0" opacity="0.7"/><rect x="569.9" y="26.0" width="5" height="2" fill="#3aa0f0" opacity="0.7"/><rect x="569.9" y="47.0" width="5" height="2" fill="#3080f0" opacity="0.7"/><rect x="570.9" y="66.0" width="3" height="2" fill="#3080f0" opacity="0.7"/><rect x="568.9" y="76.0" width="7" height="3" fill="#3aa0f0" opacity="0.7"/><rect x="570.9" y="82.0" width="3" height="2" fill="#3080f0" opacity="0.7"/><rect x="569.9" y="89.0" width="5" height="2" fill="#3aa0f0" opacity="0.7"/><rect x="568.9" y="93.0" width="7" height="3" fill="#3aa0f0" opacity="0.7"/><rect x="568.9" y="125.0" width="7" height="2" fill="#3080f0" opacity="0.7"/><rect x="569.9" y="129.0" width="5" height="3" fill="#40c0f0" opacity="0.7"/><rect x="569.9" y="141.0" width="5" height="2" fill="#3aa0f0" opacity="0.7"/><rect x="569.9" y="146.0" width="5" height="2" fill="#2a70f0" opacity="0.7"/><rect x="568.9" y="153.0" width="7" height="2" fill="#2a70f0" opacity="0.7"/><rect x="569.9" y="163.0" width="5" height="2" fill="#40c0f0" opacity="0.7"/><rect x="568.9" y="167.0" width="7" height="2" fill="#3080f0" opacity="0.7"/><rect x="569.9" y="174.0" width="5" height="4" fill="#3080f0" opacity="0.7"/><rect x="568.9" y="186.0" width="7" height="2" fill="#3aa0f0" opacity="0.7"/><rect x="569.9" y="193.0" width="5" height="4" fill="#40c0f0" opacity="0.7"/><rect x="571.4" y="199.0" width="2" height="2" fill="#2a70f0" opacity="0.7"/><rect x="586.5" y="13.0" width="3" height="2" fill="#2a70f0" opacity="0.7"/><rect x="587.0" y="20.0" width="2" height="2" fill="#2a70f0" opacity="0.7"/><rect x="586.5" y="35.0" width="3" height="2" fill="#40c0f0" opacity="0.7"/><rect x="584.5" y="42.0" width="7" height="2" fill="#2a70f0" opacity="0.7"/><rect x="587.0" y="47.0" width="2" height="2" fill="#40c0f0" opacity="0.7"/><rect x="587.0" y="52.0" width="2" height="2" fill="#3080f0" opacity="0.7"/><rect x="587.0" y="59.0" width="2" height="2" fill="#40c0f0" opacity="0.7"/><rect x="586.5" y="69.0" width="3" height="4" fill="#3aa0f0" opacity="0.7"/><rect x="587.0" y="78.0" width="2" height="4" fill="#40c0f0" opacity="0.7"/><rect x="585.5" y="87.0" width="5" height="4" fill="#2a70f0" opacity="0.7"/><rect x="585.5" y="94.0" width="5" height="4" fill="#3aa0f0" opacity="0.7"/><rect x="585.5" y="100.0" width="5" height="2" fill="#2a70f0" opacity="0.7"/><rect x="584.5" y="104.0" width="7" height="4" fill="#2a70f0" opacity="0.7"/><rect x="584.5" y="111.0" width="7" height="4" fill="#3080f0" opacity="0.7"/><rect x="586.5" y="117.0" width="3" height="3" fill="#3aa0f0" opacity="0.7"/><rect x="584.5" y="131.0" width="7" height="2" fill="#40c0f0" opacity="0.7"/><rect x="584.5" y="141.0" width="7" height="4" fill="#40c0f0" opacity="0.7"/><rect x="586.5" y="147.0" width="3" height="3" fill="#3080f0" opacity="0.7"/><rect x="587.0" y="164.0" width="2" height="2" fill="#3080f0" opacity="0.7"/><rect x="585.5" y="174.0" width="5" height="4" fill="#3080f0" opacity="0.7"/><rect x="585.5" y="183.0" width="5" height="3" fill="#40c0f0" opacity="0.7"/><rect x="584.5" y="191.0" width="7" height="2" fill="#3080f0" opacity="0.7"/><rect x="586.5" y="201.0" width="3" height="2" fill="#40c0f0" opacity="0.7"/><rect x="603.5" y="42.0" width="2" height="2" fill="#40c0f0" opacity="0.7"/><rect x="602.0" y="58.0" width="5" height="2" fill="#40c0f0" opacity="0.7"/><rect x="603.5" y="62.0" width="2" height="4" fill="#2a70f0" opacity="0.7"/><rect x="601.0" y="69.0" width="7" height="3" fill="#3aa0f0" opacity="0.7"/><rect x="603.5" y="88.0" width="2" height="2" fill="#3080f0" opacity="0.7"/><rect x="602.0" y="92.0" width="5" height="4" fill="#3080f0" opacity="0.7"/><rect x="601.0" y="116.0" width="7" height="3" fill="#3080f0" opacity="0.7"/><rect x="603.5" y="121.0" width="2" height="2" fill="#40c0f0" opacity="0.7"/><rect x="603.0" y="143.0" width="3" height="3" fill="#40c0f0" opacity="0.7"/><rect x="601.0" y="154.0" width="7" height="3" fill="#40c0f0" opacity="0.7"/><rect x="603.0" y="170.0" width="3" height="2" fill="#3080f0" opacity="0.7"/><rect x="601.0" y="175.0" width="7" height="2" fill="#40c0f0" opacity="0.7"/><rect x="601.0" y="198.0" width="7" height="2" fill="#3080f0" opacity="0.7"/>
<rect x="142" y="92" width="330" height="23" fill="#0c28e0" opacity="0.5"/>
<rect x="142" y="18" width="465" height="1.5" fill="#60d0f0" opacity="0.85"/>
<rect x="142" y="37" width="465" height="1.5" fill="#4090f0" opacity="0.5"/>
<rect x="142" y="72" width="465" height="1.5" fill="#4090f0" opacity="0.5"/>
<rect x="142" y="95.5" width="465" height="1.5" fill="#50b0f0" opacity="0.6"/>
<rect x="439" y="151" width="168" height="1.5" fill="#d8e0e8" opacity="0.85"/>
<rect x="142" y="183" width="465" height="1.5" fill="#50b0f0" opacity="0.65"/>
<rect x="142" y="197" width="465" height="1.5" fill="#50a8f0" opacity="0.6"/>
<rect x="167" y="177" width="150" height="9" fill="#40d0b0" opacity="0.75" filter="url(#wblur)"/>
<rect x="169" y="173" width="270" height="3" fill="#f0c020" opacity="0.8"/>
<g filter="url(#wblur)"><rect x="142" y="21.0" width="22" height="8" fill="url(#blobH)"/><rect x="152" y="21.0" width="2" height="8" fill="#e05020" opacity="0.8"/><rect x="142" y="35.0" width="22" height="8" fill="url(#blobH)"/><rect x="152" y="35.0" width="2" height="8" fill="#e05020" opacity="0.8"/><rect x="142" y="49.0" width="22" height="8" fill="url(#blobH)"/><rect x="152" y="49.0" width="2" height="8" fill="#e05020" opacity="0.8"/><rect x="172" y="13.0" width="22" height="8" fill="url(#blobH)"/><rect x="182" y="13.0" width="2" height="8" fill="#e05020" opacity="0.8"/><rect x="172" y="28.0" width="22" height="8" fill="url(#blobH)"/><rect x="182" y="28.0" width="2" height="8" fill="#e05020" opacity="0.8"/><rect x="172" y="35.0" width="22" height="8" fill="url(#blobH)"/><rect x="182" y="35.0" width="2" height="8" fill="#e05020" opacity="0.8"/><rect x="172" y="49.0" width="22" height="8" fill="url(#blobH)"/><rect x="182" y="49.0" width="2" height="8" fill="#e05020" opacity="0.8"/><rect x="202" y="28.0" width="22" height="8" fill="url(#blobH)"/><rect x="212" y="28.0" width="2" height="8" fill="#e05020" opacity="0.8"/><rect x="202" y="42.0" width="22" height="8" fill="url(#blobH)"/><rect x="212" y="42.0" width="2" height="8" fill="#e05020" opacity="0.8"/><rect x="202" y="12.0" width="22" height="8" fill="url(#blobH)"/><rect x="212" y="12.0" width="2" height="8" fill="#e05020" opacity="0.8"/><rect x="232" y="13.0" width="22" height="8" fill="url(#blobH)"/><rect x="242" y="13.0" width="2" height="8" fill="#e05020" opacity="0.8"/><rect x="232" y="28.0" width="22" height="8" fill="url(#blobH)"/><rect x="242" y="28.0" width="2" height="8" fill="#e05020" opacity="0.8"/><rect x="232" y="44.0" width="22" height="8" fill="url(#blobH)"/><rect x="242" y="44.0" width="2" height="8" fill="#e05020" opacity="0.8"/><rect x="232" y="57.0" width="22" height="8" fill="url(#blobH)"/><rect x="242" y="57.0" width="2" height="8" fill="#e05020" opacity="0.8"/><rect x="263" y="28.0" width="22" height="8" fill="url(#blobH)"/><rect x="273" y="28.0" width="2" height="8" fill="#e05020" opacity="0.8"/><rect x="263" y="44.0" width="22" height="8" fill="url(#blobH)"/><rect x="273" y="44.0" width="2" height="8" fill="#e05020" opacity="0.8"/><rect x="263" y="57.0" width="22" height="8" fill="url(#blobH)"/><rect x="273" y="57.0" width="2" height="8" fill="#e05020" opacity="0.8"/><rect x="293" y="20.0" width="22" height="8" fill="url(#blobH)"/><rect x="303" y="20.0" width="2" height="8" fill="#e05020" opacity="0.8"/><rect x="293" y="44.0" width="22" height="8" fill="url(#blobH)"/><rect x="303" y="44.0" width="2" height="8" fill="#e05020" opacity="0.8"/><rect x="293" y="57.0" width="22" height="8" fill="url(#blobH)"/><rect x="303" y="57.0" width="2" height="8" fill="#e05020" opacity="0.8"/><rect x="549" y="20.0" width="22" height="8" fill="url(#blobH)"/><rect x="559" y="20.0" width="2" height="8" fill="#e05020" opacity="0.8"/><rect x="549" y="36.0" width="22" height="8" fill="url(#blobH)"/><rect x="559" y="36.0" width="2" height="8" fill="#e05020" opacity="0.8"/><rect x="549" y="50.0" width="22" height="8" fill="url(#blobH)"/><rect x="559" y="50.0" width="2" height="8" fill="#e05020" opacity="0.8"/><rect x="549" y="60.0" width="22" height="8" fill="url(#blobH)"/><rect x="559" y="60.0" width="2" height="8" fill="#e05020" opacity="0.8"/><rect x="579" y="20.0" width="22" height="8" fill="url(#blobH)"/><rect x="589" y="20.0" width="2" height="8" fill="#e05020" opacity="0.8"/><rect x="579" y="36.0" width="22" height="8" fill="url(#blobH)"/><rect x="589" y="36.0" width="2" height="8" fill="#e05020" opacity="0.8"/><rect x="579" y="50.0" width="22" height="8" fill="url(#blobH)"/><rect x="589" y="50.0" width="2" height="8" fill="#e05020" opacity="0.8"/><rect x="138" y="179.0" width="22" height="6" fill="url(#blobH)"/><rect x="148" y="179.0" width="2" height="6" fill="#e05020" opacity="0.8"/><rect x="172" y="193.0" width="22" height="6" fill="url(#blobH)"/><rect x="182" y="193.0" width="2" height="6" fill="#e05020" opacity="0.8"/><rect x="203" y="193.0" width="22" height="6" fill="url(#blobH)"/><rect x="213" y="193.0" width="2" height="6" fill="#e05020" opacity="0.8"/><rect x="231" y="193.0" width="22" height="6" fill="url(#blobH)"/><rect x="241" y="193.0" width="2" height="6" fill="#e05020" opacity="0.8"/><rect x="262" y="189.0" width="22" height="6" fill="url(#blobH)"/><rect x="272" y="189.0" width="2" height="6" fill="#e05020" opacity="0.8"/><rect x="290" y="189.0" width="22" height="6" fill="url(#blobH)"/><rect x="300" y="189.0" width="2" height="6" fill="#e05020" opacity="0.8"/><rect x="262" y="181.0" width="22" height="6" fill="url(#blobH)"/><rect x="272" y="181.0" width="2" height="6" fill="#e05020" opacity="0.8"/><rect x="290" y="181.0" width="22" height="6" fill="url(#blobH)"/><rect x="300" y="181.0" width="2" height="6" fill="#e05020" opacity="0.8"/><rect x="549" y="188.0" width="22" height="6" fill="url(#blobH)"/><rect x="559" y="188.0" width="2" height="6" fill="#e05020" opacity="0.8"/><rect x="549" y="199.5" width="22" height="6" fill="url(#blobH)"/><rect x="559" y="199.5" width="2" height="6" fill="#e05020" opacity="0.8"/><rect x="580" y="178.0" width="22" height="6" fill="url(#blobH)"/><rect x="590" y="178.0" width="2" height="6" fill="#e05020" opacity="0.8"/><rect x="580" y="188.0" width="22" height="6" fill="url(#blobH)"/><rect x="590" y="188.0" width="2" height="6" fill="#e05020" opacity="0.8"/><rect x="580" y="199.5" width="22" height="6" fill="url(#blobH)"/><rect x="590" y="199.5" width="2" height="6" fill="#e05020" opacity="0.8"/><rect x="138" y="199.0" width="22" height="6" fill="url(#blobH)"/><rect x="148" y="199.0" width="2" height="6" fill="#e05020" opacity="0.8"/></g>
<g filter="url(#wblur)">
<rect x="110" y="77" width="59" height="14" fill="url(#waL)"/>
<rect x="169" y="77" width="270" height="15" fill="url(#waV)"/>
<rect x="439" y="78" width="55" height="13" fill="url(#waR)"/>
<rect x="85" y="116" width="84" height="30" fill="url(#wbL)"/>
<rect x="169" y="115" width="259" height="31" fill="url(#wbV)"/>
<rect x="428" y="116" width="100" height="30" fill="url(#wbR)"/>
<rect x="2" y="147" width="168" height="26" fill="url(#wcL)"/>
<rect x="170" y="146" width="269" height="27" fill="#f06020"/>
<path d="M439 146 L520 150 L600 152 L600 168 L520 170 L439 173Z" fill="url(#wcR)"/>
</g>
<rect x="172" y="115" width="2" height="31" fill="#f08020" opacity="0.35"/><rect x="179" y="115" width="2" height="31" fill="#f08020" opacity="0.35"/><rect x="186" y="115" width="2" height="31" fill="#f08020" opacity="0.35"/><rect x="193" y="115" width="2" height="31" fill="#f08020" opacity="0.35"/><rect x="200" y="115" width="2" height="31" fill="#f08020" opacity="0.35"/><rect x="207" y="115" width="2" height="31" fill="#f08020" opacity="0.35"/><rect x="214" y="115" width="2" height="31" fill="#f08020" opacity="0.35"/><rect x="221" y="115" width="2" height="31" fill="#f08020" opacity="0.35"/><rect x="228" y="115" width="2" height="31" fill="#f08020" opacity="0.35"/><rect x="235" y="115" width="2" height="31" fill="#f08020" opacity="0.35"/><rect x="242" y="115" width="2" height="31" fill="#f08020" opacity="0.35"/><rect x="249" y="115" width="2" height="31" fill="#f08020" opacity="0.35"/><rect x="256" y="115" width="2" height="31" fill="#f08020" opacity="0.35"/><rect x="263" y="115" width="2" height="31" fill="#f08020" opacity="0.35"/><rect x="270" y="115" width="2" height="31" fill="#f08020" opacity="0.35"/><rect x="277" y="115" width="2" height="31" fill="#f08020" opacity="0.35"/><rect x="284" y="115" width="2" height="31" fill="#f08020" opacity="0.35"/><rect x="291" y="115" width="2" height="31" fill="#f08020" opacity="0.35"/><rect x="298" y="115" width="2" height="31" fill="#f08020" opacity="0.35"/><rect x="305" y="115" width="2" height="31" fill="#f08020" opacity="0.35"/><rect x="312" y="115" width="2" height="31" fill="#f08020" opacity="0.35"/><rect x="319" y="115" width="2" height="31" fill="#f08020" opacity="0.35"/><rect x="326" y="115" width="2" height="31" fill="#f08020" opacity="0.35"/><rect x="333" y="115" width="2" height="31" fill="#f08020" opacity="0.35"/><rect x="340" y="115" width="2" height="31" fill="#f08020" opacity="0.35"/><rect x="347" y="115" width="2" height="31" fill="#f08020" opacity="0.35"/><rect x="354" y="115" width="2" height="31" fill="#f08020" opacity="0.35"/><rect x="361" y="115" width="2" height="31" fill="#f08020" opacity="0.35"/><rect x="368" y="115" width="2" height="31" fill="#f08020" opacity="0.35"/><rect x="375" y="115" width="2" height="31" fill="#f08020" opacity="0.35"/><rect x="382" y="115" width="2" height="31" fill="#f08020" opacity="0.35"/><rect x="389" y="115" width="2" height="31" fill="#f08020" opacity="0.35"/><rect x="396" y="115" width="2" height="31" fill="#f08020" opacity="0.35"/><rect x="403" y="115" width="2" height="31" fill="#f08020" opacity="0.35"/><rect x="410" y="115" width="2" height="31" fill="#f08020" opacity="0.35"/><rect x="417" y="115" width="2" height="31" fill="#f08020" opacity="0.35"/><rect x="424" y="115" width="2" height="31" fill="#f08020" opacity="0.35"/><rect x="173" y="146" width="2" height="27" fill="#e04810" opacity="0.35"/><rect x="179" y="146" width="2" height="27" fill="#e04810" opacity="0.35"/><rect x="185" y="146" width="2" height="27" fill="#e04810" opacity="0.35"/><rect x="191" y="146" width="2" height="27" fill="#e04810" opacity="0.35"/><rect x="197" y="146" width="2" height="27" fill="#e04810" opacity="0.35"/><rect x="203" y="146" width="2" height="27" fill="#e04810" opacity="0.35"/><rect x="209" y="146" width="2" height="27" fill="#e04810" opacity="0.35"/><rect x="215" y="146" width="2" height="27" fill="#e04810" opacity="0.35"/><rect x="221" y="146" width="2" height="27" fill="#e04810" opacity="0.35"/><rect x="227" y="146" width="2" height="27" fill="#e04810" opacity="0.35"/><rect x="233" y="146" width="2" height="27" fill="#e04810" opacity="0.35"/><rect x="239" y="146" width="2" height="27" fill="#e04810" opacity="0.35"/><rect x="245" y="146" width="2" height="27" fill="#e04810" opacity="0.35"/><rect x="251" y="146" width="2" height="27" fill="#e04810" opacity="0.35"/><rect x="257" y="146" width="2" height="27" fill="#e04810" opacity="0.35"/><rect x="263" y="146" width="2" height="27" fill="#e04810" opacity="0.35"/><rect x="269" y="146" width="2" height="27" fill="#e04810" opacity="0.35"/><rect x="275" y="146" width="2" height="27" fill="#e04810" opacity="0.35"/><rect x="281" y="146" width="2" height="27" fill="#e04810" opacity="0.35"/><rect x="287" y="146" width="2" height="27" fill="#e04810" opacity="0.35"/><rect x="293" y="146" width="2" height="27" fill="#e04810" opacity="0.35"/><rect x="299" y="146" width="2" height="27" fill="#e04810" opacity="0.35"/><rect x="305" y="146" width="2" height="27" fill="#e04810" opacity="0.35"/><rect x="311" y="146" width="2" height="27" fill="#e04810" opacity="0.35"/><rect x="317" y="146" width="2" height="27" fill="#e04810" opacity="0.35"/><rect x="323" y="146" width="2" height="27" fill="#e04810" opacity="0.35"/><rect x="329" y="146" width="2" height="27" fill="#e04810" opacity="0.35"/><rect x="335" y="146" width="2" height="27" fill="#e04810" opacity="0.35"/><rect x="341" y="146" width="2" height="27" fill="#e04810" opacity="0.35"/><rect x="347" y="146" width="2" height="27" fill="#e04810" opacity="0.35"/><rect x="353" y="146" width="2" height="27" fill="#e04810" opacity="0.35"/><rect x="359" y="146" width="2" height="27" fill="#e04810" opacity="0.35"/><rect x="365" y="146" width="2" height="27" fill="#e04810" opacity="0.35"/><rect x="371" y="146" width="2" height="27" fill="#e04810" opacity="0.35"/><rect x="377" y="146" width="2" height="27" fill="#e04810" opacity="0.35"/><rect x="383" y="146" width="2" height="27" fill="#e04810" opacity="0.35"/><rect x="389" y="146" width="2" height="27" fill="#e04810" opacity="0.35"/><rect x="395" y="146" width="2" height="27" fill="#e04810" opacity="0.35"/><rect x="401" y="146" width="2" height="27" fill="#e04810" opacity="0.35"/><rect x="407" y="146" width="2" height="27" fill="#e04810" opacity="0.35"/><rect x="413" y="146" width="2" height="27" fill="#e04810" opacity="0.35"/><rect x="419" y="146" width="2" height="27" fill="#e04810" opacity="0.35"/><rect x="425" y="146" width="2" height="27" fill="#e04810" opacity="0.35"/><rect x="431" y="146" width="2" height="27" fill="#e04810" opacity="0.35"/><rect x="437" y="146" width="2" height="27" fill="#e04810" opacity="0.35"/>
<rect x="169" y="128.5" width="259" height="1.5" fill="#101830" opacity="0.75"/>
<rect x="428" y="128.5" width="60" height="1.5" fill="#101830" opacity="0.45"/>
<rect x="428" y="137.8" width="60" height="1.5" fill="#101830" opacity="0.45"/>
<rect x="169" y="137.8" width="259" height="1.5" fill="#101830" opacity="0.75"/>
<rect x="169" y="146" width="270" height="1.2" fill="#101830" opacity="0.6"/>
<rect x="92" y="128.5" width="77" height="1.5" fill="#101830" opacity="0.35"/>
<rect x="92" y="137.8" width="77" height="1.5" fill="#101830" opacity="0.35"/>
<rect x="117" y="146" width="52" height="1.2" fill="#101830" opacity="0.6"/>
<rect x="2" y="149.2" width="115" height="1.2" fill="#50a8f0" opacity="0.5"/>
<rect x="303" y="146" width="2" height="27" fill="#f0d020"/>
<rect x="124" y="12" width="1" height="193" fill="#5090f0" opacity="0.5"/>
<text x="12.9" y="22.6" font-family="Liberation Sans" font-size="11.2" fill="#f4f4f4" textLength="137.5" lengthAdjust="spacingAndGlyphs">8/18/2014 23:53:34.757631</text>
</svg>
<div id="scroll"></div>
<div class="chev" style="left:787.5px;top:57px;transform:rotate(45deg)"></div>
<div class="chev" style="left:787.5px;top:242px;transform:rotate(225deg)"></div>
<div id="sep"></div>
<!-- lower -->
<svg style="position:absolute;left:110px;top:271px" width="14" height="9" viewBox="0 0 14 9"><path d="M0.5 0.5 L13 0.5 L6.75 8Z" fill="#c8ccd4" stroke="#9aa0aa" stroke-width="1"/></svg>
<div class="a lbl" style="left:143px;top:269px">Bitmap</div>
<div style="position:absolute;left:210px;top:269px;width:14px;height:14px;background:#fff;border:1px solid #555"></div>
<svg style="position:absolute;left:210px;top:269px" width="14" height="14" viewBox="0 0 14 14"><path d="M2.5 7 L5.5 10.5 L11.5 3" fill="none" stroke="#111" stroke-width="2.2"/></svg>
<div class="a lbl" style="left:227px;top:269px">Show</div>
<div class="a lbl" style="left:270px;top:269px">On</div>
<div class="btn" style="left:740px;top:265px;width:41px;height:23px;background:#e5f1fb;border:1px solid #6a9ac0;box-shadow:inset 0 0 0 1px #b8d4ea"></div>
<div class="a lbl" style="left:747px;top:269px;font-size:12px;letter-spacing:-0.1px">Clear</div>
<div class="radio" style="left:20px;top:297px"></div>
<div class="a lbl" style="left:34px;top:290px">dB/div:</div>
<div class="a lbl" style="left:34px;top:308px">10.0 dB</div>
<div class="radio" style="left:20px;top:337px"></div>
<div class="a lbl" style="left:34px;top:331px">RBW:</div>
<div class="a lbl" style="left:34px;top:348px">10.0 kHz</div>
<svg width="608" height="330" viewBox="0 0 608 330" style="position:absolute;left:173px;top:298px">
<defs>
<linearGradient id="pmain" x1="0" x2="0" y1="0" y2="1">
 <stop offset="0" stop-color="#1050c8"/>
 <stop offset="0.025" stop-color="#20a8e8"/>
 <stop offset="0.05" stop-color="#20d0d0"/>
 <stop offset="0.09" stop-color="#20e090"/>
 <stop offset="0.12" stop-color="#40e040"/>
 <stop offset="0.17" stop-color="#a0e020"/>
 <stop offset="0.21" stop-color="#e8d020"/>
 <stop offset="0.25" stop-color="#f0a020"/>
 <stop offset="0.30" stop-color="#f07818"/>
 <stop offset="0.36" stop-color="#f07818"/>
 <stop offset="0.41" stop-color="#f0a020"/>
 <stop offset="0.46" stop-color="#e8d820"/>
 <stop offset="0.54" stop-color="#b0e020"/>
 <stop offset="0.62" stop-color="#60e030"/>
 <stop offset="0.72" stop-color="#40e030"/>
 <stop offset="1" stop-color="#40e030"/>
</linearGradient>
<linearGradient id="pfloor" x1="0" x2="0" y1="0" y2="1">
 <stop offset="0" stop-color="#a00000"/>
 <stop offset="0.49" stop-color="#a00000"/>
 <stop offset="0.53" stop-color="#d01800"/>
 <stop offset="0.56" stop-color="#f04010"/>
 <stop offset="0.595" stop-color="#f08820"/>
 <stop offset="0.645" stop-color="#e0e020"/>
 <stop offset="0.69" stop-color="#a0e020"/>
 <stop offset="0.76" stop-color="#30e030"/>
 <stop offset="0.85" stop-color="#10e050"/>
 <stop offset="0.93" stop-color="#10d8a0"/>
 <stop offset="1" stop-color="#10d0d0"/>
</linearGradient>
<linearGradient id="ppeak" x1="0" x2="0" y1="0" y2="1">
 <stop offset="0" stop-color="#40e0a0"/><stop offset="0.6" stop-color="#30d8b0"/><stop offset="0.9" stop-color="#40e070"/><stop offset="1" stop-color="#60e040"/>
</linearGradient>
<filter id="pblur" x="-2%" y="-2%" width="104%" height="104%"><feGaussianBlur stdDeviation="1.6"/></filter>
<filter id="pblur3" x="-10%" y="-10%" width="120%" height="120%"><feGaussianBlur stdDeviation="7"/></filter>
<filter id="pblur2" x="-2%" y="-2%" width="104%" height="104%"><feGaussianBlur stdDeviation="0.7"/></filter>
<filter id="spk" x="0" y="0" width="100%" height="100%" filterUnits="userSpaceOnUse" color-interpolation-filters="sRGB">
 <feTurbulence type="fractalNoise" baseFrequency="0.6 0.4" numOctaves="2" seed="4" result="n"/>
 <feColorMatrix in="n" type="matrix" values="0 0 0 0 0.17  0 0 0 0 0.52  0 0 0 0 0.95  0 0 0 6 -1.65" result="c"/>
 <feComposite in="c" in2="SourceGraphic" operator="in"/>
</filter>
<linearGradient id="nz" x1="0" x2="0" y1="0" y2="1">
 <stop offset="0" stop-color="#fff" stop-opacity="0.6"/><stop offset="0.1" stop-color="#fff" stop-opacity="0.95"/><stop offset="0.4" stop-color="#fff" stop-opacity="0.5"/><stop offset="0.65" stop-color="#fff" stop-opacity="0.85"/><stop offset="1" stop-color="#fff" stop-opacity="1"/>
</linearGradient>
<filter id="spk2" x="0" y="0" width="100%" height="100%" filterUnits="userSpaceOnUse" color-interpolation-filters="sRGB">
 <feTurbulence type="fractalNoise" baseFrequency="0.7 0.12" numOctaves="2" seed="2" result="n"/>
 <feColorMatrix in="n" type="matrix" values="0 0 0 0 0.25  0 0 0 0 0.6  0 0 0 0 0.98  0 0 0 6 -2.8" result="c"/>
 <feComposite in="c" in2="SourceGraphic" operator="in"/>
</filter>
<linearGradient id="ppk" x1="0" x2="0" y1="0" y2="1">
 <stop offset="0" stop-color="#30d8b0"/><stop offset="0.7" stop-color="#30d8b0"/><stop offset="1" stop-color="#40e070" stop-opacity="0"/>
</linearGradient>
<linearGradient id="nzl" x1="0" x2="0" y1="0" y2="1">
 <stop offset="0" stop-color="#fff" stop-opacity="0"/><stop offset="1" stop-color="#fff" stop-opacity="0.9"/>
</linearGradient>
</defs>
<rect width="608" height="330" fill="#000"/>
<rect x="61" y="0" width="1" height="330" fill="#d0d0d0" opacity="0.55"/><rect x="122" y="0" width="1" height="330" fill="#d0d0d0" opacity="0.55"/><rect x="182" y="0" width="1" height="330" fill="#d0d0d0" opacity="0.55"/><rect x="243" y="0" width="1" height="330" fill="#d0d0d0" opacity="0.55"/><rect x="304" y="0" width="1" height="330" fill="#d0d0d0" opacity="0.55"/><rect x="365" y="0" width="1" height="330" fill="#d0d0d0" opacity="0.55"/><rect x="426" y="0" width="1" height="330" fill="#d0d0d0" opacity="0.55"/><rect x="486" y="0" width="1" height="330" fill="#d0d0d0" opacity="0.55"/><rect x="547" y="0" width="1" height="330" fill="#d0d0d0" opacity="0.55"/><rect x="0" y="33" width="608" height="1" fill="#d0d0d0" opacity="0.55"/><rect x="0" y="66" width="608" height="1" fill="#d0d0d0" opacity="0.55"/><rect x="0" y="99" width="608" height="1" fill="#d0d0d0" opacity="0.55"/><rect x="0" y="133" width="608" height="1" fill="#d0d0d0" opacity="0.55"/><rect x="0" y="166" width="608" height="1" fill="#d0d0d0" opacity="0.55"/><rect x="0" y="199" width="608" height="1" fill="#d0d0d0" opacity="0.55"/><rect x="0" y="232" width="608" height="1" fill="#d0d0d0" opacity="0.55"/><rect x="0" y="265" width="608" height="1" fill="#d0d0d0" opacity="0.55"/><rect x="0" y="298" width="608" height="1" fill="#d0d0d0" opacity="0.55"/>
<path d="M439 33.2 L442.7 36.6 L446.1 33.9 L449.8 31.8 L453.4 35.1 L457.8 31.6 L460.7 31.7 L465.1 36.1 L467.2 38.3 L472.1 36.2 L476 32.9 L478 35.6 L480.2 33.3 L482.9 32.4 L486.3 35.6 L490.8 36.4 L494.7 36.6 L498.7 36.6 L501.6 40.6 L506.6 39.9 L510.7 36.5 L513.4 36.5 L515.6 40 L518.8 40.8 L521.9 42 L526.5 36 L529.1 42.7 L532.5 43.7 L535.7 37.9 L539.6 43.4 L542.4 39 L545.4 45.6 L549.7 40.3 L552.4 40.6 L554.6 45.8 L557.1 44.5 L560.5 42.4 L564.7 42.5 L568.6 42.9 L571.9 44 L574.7 49.6 L579.1 45.5 L583.7 45.4 L586.9 50.3 L590.8 45.6 L595.8 47 L598.6 51.2 L601.6 48.3 L603.8 47.1 L607.5 48.6 L608 50 L608 182 L439 182Z" fill="url(#nz)" filter="url(#spk)"/>
<path d="M17 166 L25 150 L60 130 L110 128 L122 135 L122 170 L17 170Z" fill="url(#nzl)" filter="url(#spk2)" opacity="0.8"/>
<g filter="url(#pblur)"><path d="M0 166 L6.9 165.8 L16.8 165.6 L28.4 165.3 L40.4 165 L51.7 164.6 L61 164 L68.3 163.4 L74.6 162.9 L80.1 162.2 L85.1 161.4 L90 160.2 L95 158.6 L100.2 156.4 L105.3 153.7 L110.2 150.7 L114.9 147.5 L119.2 144.5 L123 141.7 L126.3 139.3 L129.1 137 L131.6 134.8 L133.8 132.6 L135.8 130.4 L137.7 128 L139.4 125.5 L140.9 122.9 L142.2 120.2 L143.4 117.5 L144.7 114.8 L146 112 L147.5 109.1 L149 106.1 L150.6 103.1 L152.1 100.2 L153.6 97.4 L155 95 L156.3 93 L157.4 91.3 L158.6 89.9 L159.7 88.4 L160.8 86.9 L162 85 L163.4 82.6 L164.9 79.8 L166.4 76.9 L167.9 74.1 L169.1 71.7 L170 70 L172 192 L0 192Z" fill="#1a60e0"/><path d="M0 169 L6.9 168.8 L16.8 168.6 L28.4 168.3 L40.4 168 L51.7 167.5 L61 167 L68.3 166.4 L74.6 165.9 L80.1 165.2 L85.1 164.4 L90 163.4 L95 162 L100.2 160.2 L105.3 157.9 L110.2 155.4 L114.9 152.9 L119.2 150.3 L123 148 L126.3 145.9 L129.1 143.9 L131.6 141.9 L133.8 139.9 L135.8 138 L137.7 136 L139.4 134.2 L140.7 132.6 L141.8 131 L142.9 129.2 L144.2 126.9 L146 124 L148.3 120.1 L151.1 115.5 L154 110.4 L157 105.2 L159.7 100.3 L162 96 L163.9 92.2 L165.6 88.6 L167 85.2 L168.2 82.3 L169.2 79.8 L170 78 L172 192 L0 192Z" fill="#20b8e8"/><path d="M0 173.4 L6.9 173.1 L16.8 172.8 L28.4 172.4 L40.4 171.9 L51.7 171.5 L61 171 L68.3 170.6 L74.6 170.4 L80.1 170.1 L85.1 169.7 L90 169 L95 168 L100.2 166.6 L105.3 164.8 L110.2 162.9 L114.9 160.7 L119.2 158.6 L123 156.5 L126.3 154.4 L129.1 152.2 L131.6 150 L133.8 147.8 L135.8 145.7 L137.7 143.8 L139.4 142.3 L140.7 141.3 L141.8 140.3 L142.9 139.1 L144.2 137.5 L146 135 L148.3 131.4 L151.1 127 L154 122.1 L157 117 L159.7 112.2 L162 108 L163.9 104.3 L165.6 100.7 L167 97.3 L168.2 94.3 L169.2 91.9 L170 90 L172 192 L0 192Z" fill="#30e060"/><path d="M0 176.6 L6.9 176.4 L16.8 176.2 L28.4 175.9 L40.4 175.6 L51.7 175.3 L61 175 L68.3 174.8 L74.6 174.6 L80.1 174.4 L85.1 174.1 L90 173.7 L95 173 L100.2 172 L105.3 170.8 L110.2 169.4 L114.9 167.9 L119.2 166.4 L123 165 L126.3 163.6 L129.1 162.2 L131.6 160.7 L133.8 159.3 L135.8 157.9 L137.7 156.5 L139.4 155.4 L140.7 154.7 L141.8 154 L142.9 153.1 L144.2 151.5 L146 149 L148.3 145.3 L151.1 140.6 L154 135.3 L157 129.8 L159.7 124.6 L162 120 L163.9 115.9 L165.6 111.9 L167 108.2 L168.2 104.9 L169.2 102.1 L170 100 L172 192 L0 192Z" fill="#d0e020"/><path d="M0 181 L6.9 180.9 L16.8 180.8 L28.4 180.6 L40.4 180.4 L51.7 180.2 L61 180 L68.3 179.8 L74.6 179.6 L80.1 179.4 L85.1 179.1 L90 178.6 L95 178 L100.2 177.1 L105.3 176.1 L110.2 174.9 L114.9 173.6 L119.2 172.3 L123 171 L126.3 169.7 L129.1 168.3 L131.6 166.9 L133.8 165.6 L135.8 164.2 L137.7 163 L139.4 162.1 L140.7 161.4 L141.8 160.9 L142.9 160.1 L144.2 158.9 L146 157 L148.3 154.2 L151.1 150.8 L154 146.9 L157 142.8 L159.7 138.7 L162 135 L163.9 131.3 L165.6 127.4 L167 123.6 L168.2 120.1 L169.2 117.2 L170 115 L172 192 L0 192Z" fill="#f08820"/></g>
<path d="M462 80 L462.6 81.4 L463.3 83 L464.1 85.1 L465.4 87.7 L467.3 91 L470 95 L473.7 100.2 L478.4 106.6 L483.6 113.6 L489.2 120.7 L494.7 127.3 L500 133 L505 137.7 L510 141.9 L515 145.6 L520 148.9 L525 152 L530 155 L534.9 157.7 L539.6 160.1 L544.4 162.2 L549.3 164.2 L554.4 166.1 L560 168 L566.4 169.9 L573.6 171.9 L581.1 173.7 L588.4 175.4 L594.8 176.8 L600 178 L603.8 178.8 L606.5 179.3 L608.5 179.6 L609.9 179.8 L611 179.9 L612 180" fill="none" stroke="#2070e0" stroke-width="26" opacity="0.3" filter="url(#pblur3)"/>
<g filter="url(#pblur)"><path d="M436 34 L436.3 33.6 L436.8 32.8 L437.4 32 L438 31.6 L438.5 32.1 L439 34 L439.4 37.6 L439.7 42.6 L440 48.5 L440.3 54.7 L440.6 60.8 L441 66 L441.4 70.6 L441.8 74.9 L442.2 79 L442.7 82.9 L443.3 86.6 L444 90 L444.9 93.2 L445.9 96.1 L447 98.8 L448.2 101.3 L449.6 103.7 L451 106 L452.4 108.2 L453.6 110 L454.9 111.8 L456.6 113.6 L458.9 115.6 L462 118 L466.1 120.8 L471 123.8 L476.4 127.1 L482.3 130.4 L488.2 133.8 L494 137 L499.7 140.2 L505.6 143.5 L511.5 146.8 L517.6 150 L523.7 153.1 L530 156 L536.4 158.8 L543 161.6 L549.6 164.2 L556.4 166.7 L563.2 169 L570 171 L577.4 172.8 L585.4 174.5 L593.5 175.9 L601 177.2 L607.4 178.2 L612 179 L612 192 L436 192Z" fill="#2a88f0"/><path d="M436 34 L436.3 33.6 L436.8 32.6 L437.4 31.6 L438 31.2 L438.5 31.8 L439 34 L439.4 38.3 L439.7 44.4 L440 51.6 L440.3 59.1 L440.6 66.2 L441 72 L441.4 76.7 L441.8 80.7 L442.2 84.3 L442.6 87.6 L443.2 90.8 L444 94 L445 97.2 L446.1 100.2 L447.3 103.1 L448.6 105.9 L450 108.5 L451.5 111 L453.1 113.4 L454.9 115.6 L456.7 117.8 L458.6 119.7 L460.4 121.5 L462 123 L463.3 124.1 L464.3 124.9 L465.2 125.4 L466.2 125.9 L467.8 126.7 L470 128 L472.9 129.8 L476.4 131.9 L480.2 134.2 L484.5 136.7 L489.1 139.3 L494 142 L499.3 144.8 L505 147.9 L511 151.1 L517.3 154.2 L523.6 157.2 L530 160 L536.4 162.5 L543 164.9 L549.6 167.1 L556.4 169.2 L563.2 171.2 L570 173 L577.4 174.7 L585.4 176.3 L593.5 177.8 L601 179.1 L607.4 180.2 L612 181 L612 192 L436 192Z" fill="#20d0c8"/><path d="M436 60 L436.3 59.8 L436.8 59.3 L437.4 58.8 L438 58.6 L438.5 58.9 L439 60 L439.4 62 L439.7 64.8 L440 68.1 L440.3 71.7 L440.6 75.4 L441 79 L441.4 82.6 L441.7 86.4 L442.1 90.4 L442.5 94.3 L443.1 98.2 L444 102 L445.1 105.7 L446.3 109.4 L447.6 113.1 L449.2 116.6 L451 119.9 L453 123 L455.3 125.7 L457.8 128.1 L460.6 130.2 L463.5 132.4 L466.7 134.6 L470 137 L473.5 139.6 L477 142.4 L480.8 145.2 L484.9 148.1 L489.2 151.1 L494 154 L499.3 157 L505 160.3 L511 163.5 L517.3 166.6 L523.6 169.5 L530 172 L536.6 174.1 L543.4 175.9 L550.4 177.4 L557.3 178.8 L563.9 180 L570 181 L575.9 181.9 L581.9 182.6 L587.5 183.1 L592.6 183.4 L596.9 183.7 L600 184 L612 192 L436 192Z" fill="#40e040"/><path d="M436 85 L436.3 84.8 L436.8 84.4 L437.3 84.1 L437.9 83.9 L438.5 84.1 L439 85 L439.4 86.6 L439.8 88.6 L440.2 91.1 L440.6 93.9 L441.2 96.9 L442 100 L442.9 103.2 L443.9 106.6 L444.9 110.2 L446.3 114 L447.9 117.9 L450 122 L452.6 126.5 L455.6 131.4 L459 136.4 L462.6 141.4 L466.3 146 L470 150 L473.7 153.3 L477.6 156.1 L481.6 158.6 L485.7 160.9 L489.8 162.9 L494 165 L498.2 167 L502.6 168.8 L506.9 170.4 L511.3 172 L515.7 173.5 L520 175 L524.5 176.5 L529.3 178.1 L534.1 179.6 L538.6 181 L542.3 182.2 L545 183 L612 192 L436 192Z" fill="#d8e020"/><path d="M436 95 L436.3 94.8 L436.8 94.4 L437.3 94.1 L437.9 93.9 L438.5 94.1 L439 95 L439.4 96.6 L439.7 98.6 L440.1 101.1 L440.5 103.9 L441.1 106.9 L442 110 L443.2 113.2 L444.5 116.7 L446.1 120.3 L447.8 124.1 L449.8 128 L452 132 L454.5 136.2 L457.2 140.8 L460.1 145.5 L463.3 150.1 L466.6 154.3 L470 158 L473.7 161.1 L477.7 163.8 L481.8 166.1 L486 168.2 L490.1 170.2 L494 172 L497.7 173.7 L501.4 175.3 L505.1 176.6 L508.6 177.9 L511.9 179 L515 180 L518 180.9 L521 181.8 L523.8 182.5 L526.3 183.1 L528.4 183.6 L530 184 L612 192 L436 192Z" fill="#f08020"/></g>
<rect x="169" y="31" width="270" height="155" fill="url(#pmain)" filter="url(#pblur2)"/>
<clipPath id="stripes"><rect x="169.0" y="36" width="2.2" height="150"/><rect x="173.9" y="36" width="2.2" height="150"/><rect x="178.8" y="36" width="2.2" height="150"/><rect x="183.7" y="36" width="2.2" height="150"/><rect x="188.6" y="36" width="2.2" height="150"/><rect x="193.5" y="36" width="2.2" height="150"/><rect x="198.4" y="36" width="2.2" height="150"/><rect x="203.3" y="36" width="2.2" height="150"/><rect x="208.2" y="36" width="2.2" height="150"/><rect x="213.1" y="36" width="2.2" height="150"/><rect x="218.0" y="36" width="2.2" height="150"/><rect x="222.9" y="36" width="2.2" height="150"/><rect x="227.8" y="36" width="2.2" height="150"/><rect x="232.7" y="36" width="2.2" height="150"/><rect x="237.6" y="36" width="2.2" height="150"/><rect x="242.5" y="36" width="2.2" height="150"/><rect x="247.4" y="36" width="2.2" height="150"/><rect x="252.3" y="36" width="2.2" height="150"/><rect x="257.2" y="36" width="2.2" height="150"/><rect x="262.1" y="36" width="2.2" height="150"/><rect x="267.0" y="36" width="2.2" height="150"/><rect x="271.9" y="36" width="2.2" height="150"/><rect x="276.8" y="36" width="2.2" height="150"/><rect x="281.7" y="36" width="2.2" height="150"/><rect x="286.6" y="36" width="2.2" height="150"/><rect x="291.5" y="36" width="2.2" height="150"/><rect x="296.4" y="36" width="2.2" height="150"/><rect x="301.3" y="36" width="2.2" height="150"/><rect x="306.2" y="36" width="2.2" height="150"/><rect x="311.1" y="36" width="2.2" height="150"/><rect x="316.0" y="36" width="2.2" height="150"/><rect x="320.9" y="36" width="2.2" height="150"/><rect x="325.8" y="36" width="2.2" height="150"/><rect x="330.7" y="36" width="2.2" height="150"/><rect x="335.6" y="36" width="2.2" height="150"/><rect x="340.5" y="36" width="2.2" height="150"/><rect x="345.4" y="36" width="2.2" height="150"/><rect x="350.3" y="36" width="2.2" height="150"/><rect x="355.2" y="36" width="2.2" height="150"/><rect x="360.1" y="36" width="2.2" height="150"/><rect x="365.0" y="36" width="2.2" height="150"/><rect x="369.9" y="36" width="2.2" height="150"/><rect x="374.8" y="36" width="2.2" height="150"/><rect x="379.7" y="36" width="2.2" height="150"/><rect x="384.6" y="36" width="2.2" height="150"/><rect x="389.5" y="36" width="2.2" height="150"/><rect x="394.4" y="36" width="2.2" height="150"/><rect x="399.3" y="36" width="2.2" height="150"/><rect x="404.2" y="36" width="2.2" height="150"/><rect x="409.1" y="36" width="2.2" height="150"/><rect x="414.0" y="36" width="2.2" height="150"/><rect x="418.9" y="36" width="2.2" height="150"/><rect x="423.8" y="36" width="2.2" height="150"/><rect x="428.7" y="36" width="2.2" height="150"/><rect x="433.6" y="36" width="2.2" height="150"/></clipPath>
<rect x="169" y="39" width="270" height="155" fill="url(#pmain)" clip-path="url(#stripes)" opacity="0.55"/>
<path d="M169.0 34 L171.1 27.3 L173.2 34Z M173.2 34 L176.0 27.1 L178.7 34Z M178.7 34 L181.0 24.8 L183.3 34Z M183.3 34 L185.2 29.1 L187.2 34Z M187.2 34 L189.8 25.1 L192.5 34Z M192.5 34 L194.5 28.9 L196.5 34Z M196.5 34 L199.0 24.4 L201.5 34Z M201.5 34 L203.4 24.3 L205.4 34Z M205.4 34 L208.0 26.4 L210.6 34Z M210.6 34 L212.8 29.4 L215.0 34Z M215.0 34 L216.8 24.2 L218.5 34Z M218.5 34 L220.5 25.8 L222.5 34Z M222.5 34 L224.5 25.1 L226.5 34Z M226.5 34 L228.9 28.2 L231.2 34Z M231.2 34 L233.2 25.7 L235.1 34Z M235.1 34 L236.9 28.6 L238.7 34Z M238.7 34 L241.0 24.9 L243.3 34Z M243.3 34 L245.7 28.3 L248.1 34Z M248.1 34 L250.7 28.8 L253.4 34Z M253.4 34 L255.2 28.4 L256.9 34Z M256.9 34 L259.1 29.6 L261.3 34Z M261.3 34 L263.3 27.8 L265.2 34Z M265.2 34 L267.5 29.2 L269.8 34Z M269.8 34 L271.9 24.7 L274.0 34Z M274.0 34 L276.8 26.1 L279.5 34Z M279.5 34 L282.0 26.5 L284.4 34Z M284.4 34 L286.3 29.8 L288.2 34Z M288.2 34 L289.9 24.5 L291.7 34Z M291.7 34 L294.2 24.2 L296.6 34Z M296.6 34 L298.4 26.2 L300.2 34Z M300.2 34 L302.4 25.6 L304.6 34Z M304.6 34 L306.7 24.0 L308.8 34Z M308.8 34 L310.6 26.7 L312.4 34Z M312.4 34 L314.9 24.6 L317.4 34Z M317.4 34 L319.9 25.8 L322.4 34Z M322.4 34 L324.9 24.5 L327.4 34Z M327.4 34 L329.5 25.9 L331.6 34Z M331.6 34 L334.3 24.8 L336.9 34Z M336.9 34 L339.1 25.3 L341.3 34Z M341.3 34 L343.9 26.6 L346.5 34Z M346.5 34 L348.9 27.7 L351.3 34Z M351.3 34 L353.6 26.3 L355.9 34Z M355.9 34 L357.8 26.2 L359.6 34Z M359.6 34 L362.3 24.7 L365.1 34Z M365.1 34 L367.5 27.7 L370.0 34Z M370.0 34 L372.5 26.5 L375.0 34Z M375.0 34 L377.2 25.0 L379.4 34Z M379.4 34 L381.2 25.5 L383.0 34Z M383.0 34 L384.8 26.4 L386.6 34Z M386.6 34 L388.8 28.6 L391.1 34Z M391.1 34 L393.5 27.0 L396.0 34Z M396.0 34 L398.3 24.5 L400.7 34Z M400.7 34 L402.7 29.9 L404.7 34Z M404.7 34 L406.8 25.9 L408.8 34Z M408.8 34 L410.8 29.0 L412.7 34Z M412.7 34 L415.4 26.0 L418.0 34Z M418.0 34 L420.2 24.6 L422.4 34Z M422.4 34 L424.5 26.0 L426.6 34Z M426.6 34 L428.5 27.4 L430.5 34Z M430.5 34 L433.0 24.5 L435.6 34Z M435.6 34 L438.2 27.7 L440.8 34Z" fill="#1a78e0" opacity="0.9"/>
<path d="M170.0 36 L172.3 32.7 L174.7 36Z M174.7 36 L176.6 32.0 L178.4 36Z M178.4 36 L181.0 30.6 L183.6 36Z M183.6 36 L186.1 30.2 L188.5 36Z M188.5 36 L190.6 33.3 L192.6 36Z M192.6 36 L194.8 32.9 L197.0 36Z M197.0 36 L199.0 32.3 L200.9 36Z M200.9 36 L203.3 32.0 L205.7 36Z M205.7 36 L207.7 30.6 L209.8 36Z M209.8 36 L212.5 32.2 L215.3 36Z M215.3 36 L217.1 33.9 L218.9 36Z M218.9 36 L221.5 33.8 L224.2 36Z M224.2 36 L226.6 31.7 L229.1 36Z M229.1 36 L231.1 30.8 L233.2 36Z M233.2 36 L235.0 33.5 L236.7 36Z M236.7 36 L238.9 33.9 L241.1 36Z M241.1 36 L243.7 33.1 L246.3 36Z M246.3 36 L248.2 33.8 L250.1 36Z M250.1 36 L252.5 32.2 L254.8 36Z M254.8 36 L257.2 31.4 L259.6 36Z M259.6 36 L262.2 30.2 L264.7 36Z M264.7 36 L267.2 33.2 L269.6 36Z M269.6 36 L271.8 33.3 L274.0 36Z M274.0 36 L275.8 32.1 L277.6 36Z M277.6 36 L280.0 33.3 L282.5 36Z M282.5 36 L284.5 32.6 L286.5 36Z M286.5 36 L289.0 31.9 L291.4 36Z M291.4 36 L293.8 31.0 L296.2 36Z M296.2 36 L298.3 30.8 L300.4 36Z M300.4 36 L303.1 33.7 L305.8 36Z M305.8 36 L308.4 31.1 L311.1 36Z M311.1 36 L313.0 32.2 L314.9 36Z M314.9 36 L317.3 30.4 L319.6 36Z M319.6 36 L321.8 31.7 L323.9 36Z M323.9 36 L326.5 30.8 L329.1 36Z M329.1 36 L331.8 32.1 L334.5 36Z M334.5 36 L336.9 33.2 L339.3 36Z M339.3 36 L341.8 30.7 L344.3 36Z M344.3 36 L346.7 31.1 L349.1 36Z M349.1 36 L351.0 30.4 L353.0 36Z M353.0 36 L355.7 30.1 L358.4 36Z M358.4 36 L360.7 30.8 L363.0 36Z M363.0 36 L365.1 30.4 L367.2 36Z M367.2 36 L369.8 32.6 L372.4 36Z M372.4 36 L374.2 32.2 L376.0 36Z M376.0 36 L378.3 30.9 L380.6 36Z M380.6 36 L382.9 33.9 L385.1 36Z M385.1 36 L387.7 33.7 L390.2 36Z M390.2 36 L392.8 33.3 L395.3 36Z M395.3 36 L397.4 30.8 L399.5 36Z M399.5 36 L401.4 33.4 L403.3 36Z M403.3 36 L405.6 31.1 L407.8 36Z M407.8 36 L410.4 31.2 L413.0 36Z M413.0 36 L415.7 32.0 L418.4 36Z M418.4 36 L421.1 33.7 L423.8 36Z M423.8 36 L425.8 31.9 L427.7 36Z M427.7 36 L429.8 31.1 L431.8 36Z M431.8 36 L434.2 31.9 L436.6 36Z M436.6 36 L439.2 31.8 L441.8 36Z" fill="#20c0d8" opacity="0.9"/>
<rect x="182" y="20" width="1" height="14" fill="#50a0e0" opacity="0.8"/>
<rect x="243" y="12" width="1" height="22" fill="#50a0e0" opacity="0.8"/>
<rect x="304" y="4" width="1" height="30" fill="#50a0e0" opacity="0.8"/>
<rect x="365" y="16" width="1" height="18" fill="#50a0e0" opacity="0.8"/>
<rect x="395" y="20" width="1" height="14" fill="#50a0e0" opacity="0.8"/>
<rect x="425" y="22" width="1" height="12" fill="#50a0e0" opacity="0.8"/>
<g filter="url(#pblur)"><path d="M169 162 L175.5 160.4 L184.6 158.3 L195.3 155.7 L206.6 153 L217.5 150.3 L227 148 L235.2 145.9 L243.1 143.8 L250.6 141.8 L257.6 139.9 L264 138.3 L270 137 L275.1 136 L279.4 135.2 L283.2 134.7 L286.8 134.4 L290.6 134.5 L295 135 L300 135.9 L305.2 137.1 L310.7 138.7 L316.2 140.6 L321.7 142.7 L327 145 L332.3 147.8 L337.6 151 L342.9 154.6 L348 158.1 L352.8 161.3 L357 164 L360.5 166.2 L363.3 168.3 L365.8 170 L368.1 171.4 L370.8 172.4 L374 173 L377.9 173 L382.2 172.4 L386.8 171.4 L391.4 170.3 L395.9 169.1 L400 168 L403.7 167 L407.2 166 L410.6 165 L413.8 164 L416.9 163 L420 162 L423.2 161.1 L426.4 160.1 L429.6 159.1 L432.6 158.3 L435.1 157.5 L437 157 L438.2 156.7 L438.9 156.6 L439.1 156.7 L439 156.8 L439 156.9 L439 157 L439 192 L169 192Z" fill="#e8d020"/><path d="M169 165.5 L175.5 163.9 L184.6 161.8 L195.3 159.2 L206.6 156.5 L217.5 153.8 L227 151.5 L235.2 149.4 L243.1 147.3 L250.6 145.2 L257.6 143.4 L264 141.8 L270 140.5 L275.1 139.5 L279.4 138.7 L283.2 138.2 L286.8 137.9 L290.6 138 L295 138.5 L300 139.4 L305.2 140.6 L310.7 142.2 L316.2 144.1 L321.7 146.2 L327 148.5 L332.3 151.3 L337.6 154.5 L342.9 158.1 L348 161.6 L352.8 164.8 L357 167.5 L360.5 169.7 L363.3 171.8 L365.8 173.5 L368.1 174.9 L370.8 175.9 L374 176.5 L377.9 176.5 L382.2 175.9 L386.8 174.9 L391.4 173.8 L395.9 172.6 L400 171.5 L403.7 170.5 L407.2 169.5 L410.6 168.5 L413.8 167.5 L416.9 166.5 L420 165.5 L423.2 164.6 L426.4 163.6 L429.6 162.6 L432.6 161.8 L435.1 161 L437 160.5 L438.2 160.2 L438.9 160.1 L439.1 160.2 L439 160.3 L439 160.4 L439 160.5 L439 192 L169 192Z" fill="#f08820"/><path d="M169 169 L175.5 167.4 L184.6 165.3 L195.3 162.7 L206.6 160 L217.5 157.3 L227 155 L235.2 152.9 L243.1 150.8 L250.6 148.8 L257.6 146.9 L264 145.3 L270 144 L275.1 143 L279.4 142.2 L283.2 141.7 L286.8 141.4 L290.6 141.5 L295 142 L300 142.9 L305.2 144.1 L310.7 145.7 L316.2 147.6 L321.7 149.7 L327 152 L332.3 154.8 L337.6 158 L342.9 161.6 L348 165.1 L352.8 168.3 L357 171 L360.5 173.2 L363.3 175.3 L365.8 177 L368.1 178.4 L370.8 179.4 L374 180 L377.9 180 L382.2 179.4 L386.8 178.4 L391.4 177.3 L395.9 176.1 L400 175 L403.7 174 L407.2 173 L410.6 172 L413.8 171 L416.9 170 L420 169 L423.2 168.1 L426.4 167.1 L429.6 166.1 L432.6 165.3 L435.1 164.5 L437 164 L438.2 163.7 L438.9 163.6 L439.1 163.7 L439 163.8 L439 163.9 L439 164 L439 192 L169 192Z" fill="#e02800"/><path d="M169 174 L175.5 172.4 L184.6 170.3 L195.3 167.7 L206.6 165 L217.5 162.3 L227 160 L235.2 157.9 L243.1 155.8 L250.6 153.8 L257.6 151.9 L264 150.3 L270 149 L275.1 148 L279.4 147.2 L283.2 146.7 L286.8 146.4 L290.6 146.5 L295 147 L300 147.9 L305.2 149.1 L310.7 150.7 L316.2 152.6 L321.7 154.7 L327 157 L332.3 159.8 L337.6 163 L342.9 166.6 L348 170.1 L352.8 173.3 L357 176 L360.5 178.2 L363.3 180.3 L365.8 182 L368.1 183.4 L370.8 184.4 L374 185 L377.9 185 L382.2 184.4 L386.8 183.4 L391.4 182.3 L395.9 181.1 L400 180 L403.7 179 L407.2 178 L410.6 177 L413.8 176 L416.9 175 L420 174 L423.2 173.1 L426.4 172.1 L429.6 171.1 L432.6 170.3 L435.1 169.5 L437 169 L438.2 168.7 L438.9 168.6 L439.1 168.7 L439 168.8 L439 168.9 L439 169 L439 192 L169 192Z" fill="#a00000"/></g>
<path d="M169.0 172.4 L171.4 161.4 L173.9 172.4Z M173.9 171.2 L176.3 160.2 L178.8 171.2Z M178.8 170.1 L181.2 159.1 L183.7 170.1Z M183.7 168.9 L186.2 157.9 L188.6 168.9Z M188.6 167.7 L191.1 156.7 L193.5 167.7Z M193.5 166.5 L196.0 155.5 L198.4 166.5Z M198.4 165.4 L200.9 154.4 L203.3 165.4Z M203.3 164.2 L205.8 153.2 L208.2 164.2Z M208.2 163.0 L210.7 152.0 L213.1 163.0Z M213.1 161.8 L215.6 150.8 L218.0 161.8Z M218.0 160.6 L220.5 149.6 L222.9 160.6Z M222.9 159.4 L225.4 148.4 L227.8 159.4Z M227.8 158.2 L230.3 147.2 L232.7 158.2Z M232.7 156.9 L235.2 145.9 L237.6 156.9Z M237.6 155.6 L240.1 144.6 L242.5 155.6Z M242.5 154.3 L245.0 143.3 L247.4 154.3Z M247.4 152.9 L249.9 141.9 L252.3 152.9Z M252.3 151.6 L254.8 140.6 L257.2 151.6Z M257.2 150.4 L259.7 139.4 L262.1 150.4Z M262.1 149.2 L264.6 138.2 L267.0 149.2Z M267.0 148.1 L269.5 137.1 L271.9 148.1Z M271.9 147.2 L274.4 136.2 L276.8 147.2Z M276.8 146.3 L279.2 135.3 L281.7 146.3Z M281.7 145.6 L284.1 134.6 L286.6 145.6Z M286.6 145.5 L289.0 134.5 L291.5 145.5Z M291.5 145.9 L293.9 134.9 L296.4 145.9Z M296.4 146.7 L298.8 135.7 L301.3 146.7Z M301.3 147.8 L303.7 136.8 L306.2 147.8Z M306.2 149.1 L308.6 138.1 L311.1 149.1Z M311.1 150.7 L313.5 139.7 L316.0 150.7Z M316.0 152.4 L318.4 141.4 L320.9 152.4Z M320.9 154.4 L323.3 143.4 L325.8 154.4Z M325.8 156.7 L328.2 145.7 L330.7 156.7Z M330.7 159.3 L333.1 148.3 L335.6 159.3Z M335.6 162.3 L338.0 151.3 L340.5 162.3Z M340.5 165.6 L342.9 154.6 L345.4 165.6Z M345.4 168.9 L347.8 157.9 L350.3 168.9Z M350.3 172.3 L352.7 161.3 L355.2 172.3Z M355.2 175.4 L357.6 164.4 L360.1 175.4Z M360.1 178.7 L362.5 167.7 L365.0 178.7Z M365.0 182.0 L367.4 171.0 L369.9 182.0Z M369.9 183.7 L372.3 172.7 L374.8 183.7Z M374.8 184.0 L377.2 173.0 L379.7 184.0Z M379.7 183.4 L382.1 172.4 L384.6 183.4Z M384.6 182.4 L387.0 171.4 L389.5 182.4Z M389.5 181.1 L391.9 170.1 L394.4 181.1Z M394.4 179.8 L396.8 168.8 L399.3 179.8Z M399.3 178.6 L401.7 167.6 L404.2 178.6Z M404.2 177.2 L406.6 166.2 L409.1 177.2Z M409.1 175.7 L411.5 164.7 L414.0 175.7Z M414.0 174.1 L416.4 163.1 L418.9 174.1Z M418.9 172.6 L421.3 161.6 L423.8 172.6Z M423.8 171.1 L426.2 160.1 L428.7 171.1Z M428.7 169.7 L431.1 158.7 L433.6 169.7Z M433.6 168.3 L436.0 157.3 L438.5 168.3Z" fill="#c01000" opacity="0.8" filter="url(#pblur2)"/>
<path d="M300 182 L301 130 L303 100 L305 100 L307 130 L308 182Z" fill="#80e040" opacity="0.85" filter="url(#pblur)"/>
<rect x="0" y="182" width="608" height="148" fill="url(#pfloor)"/>
<rect x="0" y="181" width="608" height="3" fill="#e01808" opacity="0.8"/>
<path d="M548.5 182 L549.2 175.2 L549.9 168.5 L550.6 161.8 L551.3 155 L552 148.2 L552.7 141.5 L553.4 134.8 L554.1 128 L554.8 121.2 L555.4 114.5 L556.1 107.8 L556.7 101 L557.4 94.2 L558 87.5 L558.6 80.8 L559.3 74 L559.9 67.2 L560.5 60.5 L561 53.8 L561.6 47 L562.1 40.2 L562.6 33.5 L563.1 26.8 L563.5 20 L563.5 20 L563.9 26.8 L564.4 33.5 L564.9 40.2 L565.4 47 L566 53.8 L566.5 60.5 L567.1 67.2 L567.7 74 L568.4 80.8 L569 87.5 L569.6 94.2 L570.3 101 L570.9 107.8 L571.6 114.5 L572.2 121.2 L572.9 128 L573.6 134.8 L574.3 141.5 L575 148.2 L575.7 155 L576.4 161.8 L577.1 168.5 L577.8 175.2 L578.5 182Z" fill="url(#ppeak)"/>
<ellipse cx="562.5" cy="42" rx="2" ry="4" fill="#f09030" opacity="0.7"/>
<path d="M578 182 L578.7 175.1 L579.4 168.2 L580.1 161.4 L580.8 154.5 L581.5 147.6 L582.2 140.8 L582.9 133.9 L583.6 127 L584.3 120.1 L584.9 113.2 L585.6 106.4 L586.2 99.5 L586.9 92.6 L587.5 85.8 L588.1 78.9 L588.8 72 L589.4 65.1 L590 58.2 L590.5 51.4 L591.1 44.5 L591.6 37.6 L592.1 30.8 L592.6 23.9 L593 17 L593 17 L593.4 23.9 L593.9 30.8 L594.4 37.6 L594.9 44.5 L595.5 51.4 L596 58.2 L596.6 65.1 L597.2 72 L597.9 78.9 L598.5 85.8 L599.1 92.6 L599.8 99.5 L600.4 106.4 L601.1 113.2 L601.7 120.1 L602.4 127 L603.1 133.9 L603.8 140.8 L604.5 147.6 L605.2 154.5 L605.9 161.4 L606.6 168.2 L607.3 175.1 L608 182Z" fill="url(#ppeak)"/>
<ellipse cx="592" cy="39" rx="2" ry="4" fill="#f09030" opacity="0.7"/>
<path d="M138.5 140 L139 136.3 L139.6 132.7 L140.1 129 L140.6 125.3 L141.2 121.7 L141.7 118 L142.2 114.3 L142.8 110.7 L143.3 107 L143.9 103.3 L144.4 99.7 L145 96 L145.6 92.3 L146.1 88.7 L146.7 85 L147.3 81.3 L147.9 77.7 L148.5 74 L149.1 70.3 L149.7 66.7 L150.3 63 L151 59.3 L151.7 55.7 L152.5 52 L152.5 52 L153.3 55.7 L154 59.3 L154.7 63 L155.3 66.7 L155.9 70.3 L156.5 74 L157.1 77.7 L157.7 81.3 L158.3 85 L158.9 88.7 L159.4 92.3 L160 96 L160.6 99.7 L161.1 103.3 L161.7 107 L162.2 110.7 L162.8 114.3 L163.3 118 L163.8 121.7 L164.4 125.3 L164.9 129 L165.4 132.7 L166 136.3 L166.5 140Z" fill="url(#ppk)" filter="url(#pblur2)"/>
<path d="M0 180.4 L1.5 180.7 L3 182.8 L4.5 183.1 L6 179.9 L7.5 182.8 L9 183.4 L10.5 181.4 L12 181.6 L13.5 179.9 L15 181.4 L16.5 181.3 L18 181.7 L19.5 179.1 L21 183.4 L22.5 181.3 L24 180.8 L25.5 182.6 L27 181.5 L28.5 181.2 L30 182.1 L31.5 179.3 L33 181.4 L34.5 180.9 L36 183.3 L37.5 183.2 L39 180.2 L40.5 181.1 L42 179.6 L43.5 181 L45 182.7 L46.5 183.1 L48 181.1 L49.5 180.4 L51 179.9 L52.5 181.8 L54 183.2 L55.5 179.6 L57 182.5 L58.5 179.1 L60 179.9 L61.5 180 L63 182.1 L64.5 180.4 L66 180.6 L67.5 181.8 L69 179.5 L70.5 182.3 L72 179.6 L73.5 181.3 L75 180.1 L76.5 179.9 L78 181.4 L79.5 181 L81 180.7 L82.5 180.9 L84 181.4 L85.5 179.7 L87 179.9 L88.5 181.8 L90 181.9 L91.5 181.4 L93 182.8 L94.5 181.8 L96 182.9 L97.5 180 L99 182.3 L100.5 182.6 L102 183.1 L103.5 180.4 L105 180.4 L106.5 183.2 L108 180 L109.5 183.5 L111 183 L112.5 179.6 L114 180.1 L115.5 174.7 L117 170.6 L118.5 168.3 L120 173.1 L121.5 177.9 L123 179.9 L124.5 182.1 L126 183.1 L127.5 183.4 L129 179.5 L130.5 181.3 L132 182.4 L133.5 181.3 L135 182.1 L136.5 179.9 L138 167 L139.5 156.8 L141 143.6 L142.5 127.8 L144 117.7 L145.5 103.8 L147 83.4 L148.5 69.9 L150 51.8 L151.5 33.3 L152.5 15 L153 26 L154.5 47.8 L156 62.6 L157.5 82.3 L159 94.4 L160.5 111 L162 127.4 L163.5 140 L165 152.8 L166.5 165.7 L168 180.7 L169.5 182.6 L171 180.2 L172.5 183.1 L174 182.3 L175.5 182.5 L177 182.7 L178.5 180.8 L180 183 L181.5 183 L183 182.1 L184.5 182.5 L186 182.4 L187.5 180.8 L189 182.3 L190.5 179.3 L192 180.5 L193.5 181.1 L195 179 L196.5 180.6 L198 181.9 L199.5 181.8 L201 180 L202.5 183.3 L204 182 L205.5 180.5 L207 182 L208.5 181.6 L210 181.4 L211.5 180.8 L213 183.5 L214.5 181.9 L216 182.2 L217.5 182.4 L219 183.4 L220.5 179.1 L222 181.8 L223.5 182.3 L225 180.2 L226.5 180.8 L228 179.2 L229.5 179.9 L231 180.7 L232.5 179.4 L234 180.1 L235.5 183.1 L237 181.5 L238.5 181.3 L240 183.4 L241.5 181.6 L243 183.5 L244.5 181.9 L246 182.6 L247.5 179.3 L249 181.7 L250.5 168.9 L252 158.1 L253.5 154.4 L255 167.4 L256.5 177.9 L258 167.7 L259.5 155.5 L261 145.6 L262.5 142.5 L264 150.7 L265.5 161.8 L267 175.7 L268.5 180.8 L270 183 L271.5 182.4 L273 179.2 L274.5 181.1 L276 173 L277.5 163.2 L279 154.3 L280.5 154.4 L282 160.5 L283.5 169.9 L285 175.1 L286.5 181.8 L288 173.8 L289.5 165.8 L291 154.9 L292.5 144.3 L294 133.8 L295.5 123.1 L297 111.8 L298.5 96.6 L300 77.9 L301.5 64.7 L303 40.6 L304 15 L304.5 33 L306 57.1 L307.5 76.3 L309 88.9 L310.5 106.9 L312 114.6 L313.5 128 L315 141.6 L316.5 152 L318 159.7 L319.5 172.6 L321 177.1 L322.5 169.8 L324 165.4 L325.5 160.5 L327 170 L328.5 176.5 L330 180 L331.5 180.9 L333 180.2 L334.5 182.6 L336 180.7 L337.5 181.9 L339 183.5 L340.5 180.5 L342 180 L343.5 174.2 L345 168.4 L346.5 172.8 L348 179.3 L349.5 181.2 L351 182.1 L352.5 180.3 L354 182.5 L355.5 179.3 L357 180 L358.5 182 L360 179.4 L361.5 180.4 L363 182.3 L364.5 182.1 L366 180.3 L367.5 179.6 L369 180.6 L370.5 182.3 L372 180.6 L373.5 179.5 L375 182.2 L376.5 181.6 L378 183.1 L379.5 183.2 L381 183.1 L382.5 181 L384 182.6 L385.5 180.4 L387 180.4 L388.5 180.8 L390 183.2 L391.5 183 L393 180.1 L394.5 180.6 L396 180.6 L397.5 180.6 L399 180.8 L400.5 180.7 L402 179.9 L403.5 181.5 L405 182.6 L406.5 181.4 L408 182.8 L409.5 181.5 L411 179.8 L412.5 182.4 L414 183 L415.5 180.3 L417 179.1 L418.5 181.3 L420 181.4 L421.5 181.6 L423 176.2 L424.5 169.9 L426 169.8 L427.5 177.7 L429 183 L430.5 179.4 L432 181.9 L433.5 179.6 L435 182.4 L436.5 181.9 L438 180.1 L439.5 180 L441 182.4 L442.5 181.3 L444 182.4 L445.5 180.8 L447 180.5 L448.5 183.4 L450 182 L451.5 181.2 L453 181.4 L454.5 182.2 L456 182.2 L457.5 183.1 L459 180.8 L460.5 182.7 L462 182 L463.5 182.8 L465 182.6 L466.5 182.8 L468 183 L469.5 183.3 L471 181.9 L472.5 181.4 L474 182.2 L475.5 182.6 L477 180.9 L478.5 180.9 L480 179.7 L481.5 182.3 L483 183.5 L484.5 180.7 L486 179.8 L487.5 179.9 L489 180.9 L490.5 180.3 L492 183.4 L493.5 179.3 L495 180.4 L496.5 179.5 L498 181.9 L499.5 182.5 L501 179.8 L502.5 179.3 L504 181.1 L505.5 181.6 L507 183.1 L508.5 179.2 L510 179.5 L511.5 179.8 L513 180 L514.5 180.1 L516 182.2 L517.5 181.7 L519 180 L520.5 179.8 L522 180.3 L523.5 179.8 L525 182.4 L526.5 180.4 L528 181.5 L529.5 182.7 L531 181.2 L532.5 180.2 L534 183 L535.5 183.1 L537 180.5 L538.5 181.5 L540 183.3 L541.5 181.2 L543 180 L544.5 179.2 L546 183.3 L547.5 182.6 L549 177.5 L550.5 161.7 L552 149.6 L553.5 131.1 L555 118.3 L556.5 105 L558 85.9 L559.5 70.6 L561 56.7 L562.5 36.6 L563.5 20.5 L564 27.5 L565.5 46.4 L567 63 L568.5 84.7 L570 96 L571.5 115.3 L573 128.9 L574.5 146.5 L576 160.5 L577.5 174.3 L579 174.9 L580.5 159.8 L582 143.4 L583.5 126 L585 111.6 L586.5 94.5 L588 80.6 L589.5 63.1 L591 43.7 L592.5 25.9 L593 17.6 L594 35.2 L595.5 49.3 L597 70.9 L598.5 86.7 L600 99.4 L601.5 119.7 L603 133.8 L604.5 147.3 L606 161.5 L607.5 176.6" fill="none" stroke="#f8f080" stroke-width="1.1"/>
<g style="mix-blend-mode:screen" opacity="0.45"><rect x="61" y="0" width="1" height="330" fill="#b0b0b0" opacity="0.55"/><rect x="122" y="0" width="1" height="330" fill="#b0b0b0" opacity="0.55"/><rect x="182" y="0" width="1" height="330" fill="#b0b0b0" opacity="0.55"/><rect x="243" y="0" width="1" height="330" fill="#b0b0b0" opacity="0.55"/><rect x="304" y="0" width="1" height="330" fill="#b0b0b0" opacity="0.55"/><rect x="365" y="0" width="1" height="330" fill="#b0b0b0" opacity="0.55"/><rect x="426" y="0" width="1" height="330" fill="#b0b0b0" opacity="0.55"/><rect x="486" y="0" width="1" height="330" fill="#b0b0b0" opacity="0.55"/><rect x="547" y="0" width="1" height="330" fill="#b0b0b0" opacity="0.55"/><rect x="0" y="33" width="608" height="1" fill="#b0b0b0" opacity="0.55"/><rect x="0" y="66" width="608" height="1" fill="#b0b0b0" opacity="0.55"/><rect x="0" y="99" width="608" height="1" fill="#b0b0b0" opacity="0.55"/><rect x="0" y="133" width="608" height="1" fill="#b0b0b0" opacity="0.55"/><rect x="0" y="166" width="608" height="1" fill="#b0b0b0" opacity="0.55"/><rect x="0" y="199" width="608" height="1" fill="#b0b0b0" opacity="0.55"/><rect x="0" y="232" width="608" height="1" fill="#b0b0b0" opacity="0.55"/><rect x="0" y="265" width="608" height="1" fill="#b0b0b0" opacity="0.55"/><rect x="0" y="298" width="608" height="1" fill="#b0b0b0" opacity="0.55"/></g>
<rect x="0" y="0" width="608" height="2" fill="#606060"/>
</svg>
<div class="a lbl" style="right:646px;top:290px">-47.5</div>
<div style="position:absolute;left:164px;top:298px;width:3px;height:1px;background:#444"></div>
<div class="a lbl" style="right:646px;top:356px">-67.5</div>
<div style="position:absolute;left:164px;top:364px;width:3px;height:1px;background:#444"></div>
<div class="a lbl" style="right:646px;top:422px">-87.5</div>
<div style="position:absolute;left:164px;top:430px;width:3px;height:1px;background:#444"></div>
<div class="a lbl" style="right:646px;top:488px">-107.5</div>
<div style="position:absolute;left:164px;top:496px;width:3px;height:1px;background:#444"></div>
<div class="a lbl" style="right:646px;top:554px">-127.5</div>
<div style="position:absolute;left:164px;top:562px;width:3px;height:1px;background:#444"></div>
<div class="a lbl" style="right:646px;top:618px">-147.5</div>
<div style="position:absolute;left:164px;top:628px;width:3px;height:1px;background:#444"></div>

<div id="cbar"></div>
<div class="btn" style="left:20px;top:576px;width:89px;height:24px;background:linear-gradient(#f2f2f2,#e4e4e4)"></div>
<div class="a lbl" style="left:24px;top:581px">Split</div>
<div class="chev" style="left:97px;top:583px;width:6px;height:6px;transform:rotate(225deg)"></div>
<div class="btn" style="left:21px;top:640px;width:74px;height:21px;background:#e9e9e9;border-color:#a8a8a8"></div>
<div class="a lbl" style="left:30px;top:643px;letter-spacing:-0.2px">Autoscale</div>
<div class="radio" style="left:113px;top:647px"></div>
<div class="a lbl" style="left:127px;top:642px;letter-spacing:-0.3px">CF:  2.41200 GHz</div>
<div class="radio" style="left:643px;top:647px"></div>
<div class="a lbl" style="left:656px;top:642px;letter-spacing:-0.2px">Span:  40.00 MHz</div>
</body></html>
